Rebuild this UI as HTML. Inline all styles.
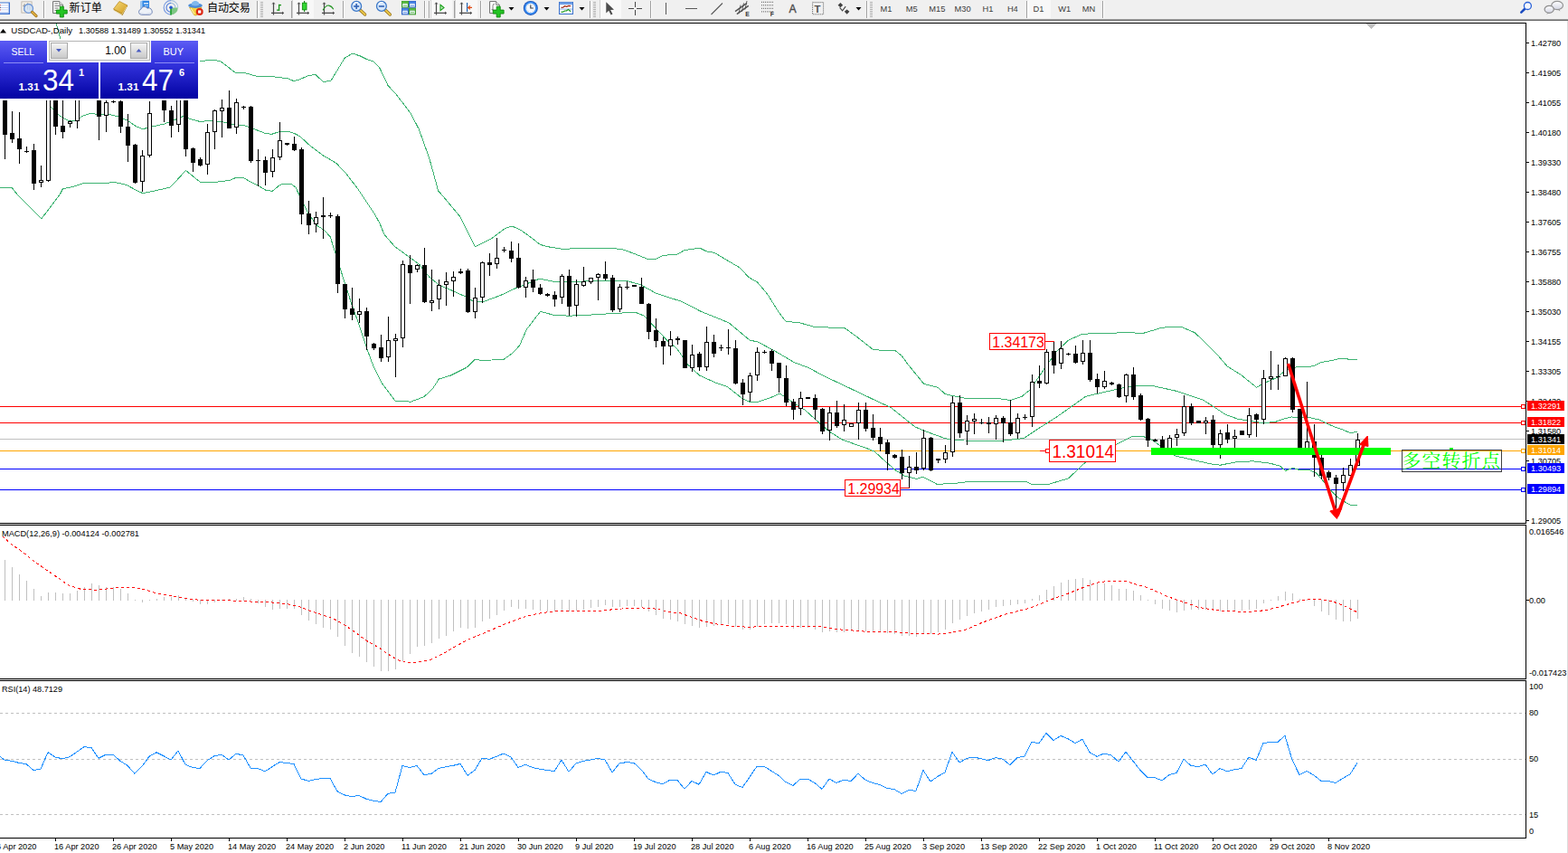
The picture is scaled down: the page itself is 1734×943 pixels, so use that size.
<!DOCTYPE html><html><head><meta charset="utf-8"><title>USDCAD Daily</title>
<style>html,body{margin:0;padding:0;background:#fff;overflow:hidden}svg{display:block}text{font-family:"Liberation Sans",sans-serif}</style></head><body>
<svg width="1734" height="943" viewBox="0 0 1734 943">
<rect x="0" y="0" width="1734" height="943" fill="#fff" />
<g shape-rendering="crispEdges">
<defs><clipPath id="cm"><rect x="0" y="26" width="1687" height="552"/></clipPath><clipPath id="cmacd"><rect x="0" y="582" width="1687" height="168"/></clipPath><linearGradient id="gb" gradientUnits="userSpaceOnUse" x1="0" y1="45" x2="0" y2="109"><stop offset="0" stop-color="#5c5cf4"/><stop offset="0.38" stop-color="#3434de"/><stop offset="1" stop-color="#0202a2"/></linearGradient><linearGradient id="gbtn" x1="0" y1="0" x2="0" y2="1"><stop offset="0" stop-color="#f4f4f4"/><stop offset="1" stop-color="#c9c9c9"/></linearGradient></defs>
<g clip-path="url(#cm)">
<rect x="0" y="449" width="1687" height="1" fill="#ff0000" />
<rect x="0" y="467" width="1687" height="1" fill="#ff0000" />
<rect x="0" y="485" width="1687" height="1" fill="#c0c0c0" />
<rect x="0" y="498" width="1687" height="1" fill="#ffa500" />
<rect x="0" y="518" width="1687" height="1" fill="#0000ff" />
<rect x="0" y="541" width="1687" height="1" fill="#0000ff" />
<polyline points="58.0,10.0 62.0,26.0 67.0,43.0 80.0,58.0 150.0,66.0 220.6,67.7 234.4,66.1 243.9,67.7 261.1,81.0 268.7,80.1 284.0,84.3 303.1,84.9 318.3,86.8 325.0,89.6 331.7,87.7 341.2,83.5 348.9,82.4 357.5,90.6 366.1,89.1 381.3,63.9 389.9,59.1 398.5,62.0 406.1,65.8 412.8,67.7 419.5,74.4 429.0,94.4 438.6,104.9 453.9,124.9 463.4,143.1 472.9,169.8 476.5,181.0 484.6,211.0 488.0,214.7 508.3,238.9 525.3,272.9 543.2,263.9 558.5,252.4 566.1,249.9 575.7,254.3 585.2,261.0 597.6,270.5 606.2,272.8 621.5,275.3 646.3,274.4 673.1,274.4 687.1,275.4 699.8,279.8 716.3,286.4 725.2,286.4 732.9,282.4 749.4,281.0 757.0,276.6 773.6,274.1 781.2,277.9 790.1,279.4 804.1,287.7 818.1,296.0 828.3,306.8 837.2,311.6 848.7,325.2 861.3,345.4 869.0,355.3 884.2,356.8 901.4,361.6 933.9,362.5 947.2,372.1 965.4,386.4 975.9,387.3 989.2,387.0 996.9,393.1 1004.5,403.4 1021.7,424.4 1037.0,428.2 1045.6,435.8 1065.6,440.0 1100.0,440.0 1117.1,442.5 1130.0,438.3 1139.5,430.6 1154.8,407.7 1168.2,388.6 1181.5,376.2 1196.8,369.2 1215.9,368.6 1248.3,367.6 1263.6,368.6 1282.7,362.9 1294.1,361.0 1307.5,361.9 1320.9,367.6 1330.4,376.2 1345.7,391.5 1357.1,404.9 1372.4,414.4 1389.6,428.3 1397.2,423.9 1412.5,417.3 1422.0,408.7 1433.5,405.8 1448.5,405.4 1453.6,404.2 1461.2,400.4 1471.4,398.8 1481.6,396.3 1488.0,396.2 1491.8,397.4 1500.9,397.4" fill="none" stroke="#3cb371" stroke-width="1" />
<polyline points="0.0,100.0 50.9,110.9 56.0,117.9 66.2,128.1 75.1,133.2 84.0,133.2 91.6,128.1 100.5,125.2 109.4,126.8 119.6,126.2 132.3,129.4 141.2,133.2 150.1,139.5 157.8,142.7 169.2,139.8 181.9,137.0 194.7,131.9 202.3,128.7 209.9,131.3 220.2,134.2 232.9,133.8 247.7,135.1 252.0,136.3 260.9,138.5 269.8,138.5 281.2,142.7 292.7,147.2 300.3,148.4 309.2,145.5 319.4,145.5 325.1,147.2 331.7,150.7 342.3,160.5 357.6,172.0 371.6,180.2 382.3,191.2 396.3,209.6 414.1,236.3 420.0,247.0 424.9,259.1 436.4,272.4 453.5,284.9 464.0,292.5 474.5,305.9 486.0,315.4 502.2,322.1 515.6,328.4 524.1,333.5 534.6,333.5 552.8,326.8 571.9,317.9 583.3,313.5 596.7,308.1 613.9,311.6 636.8,311.6 657.8,310.2 680.0,310.0 693.4,310.6 708.6,314.8 725.8,324.4 752.5,332.9 775.4,344.4 806.0,356.8 828.9,375.9 838.4,378.2 855.6,387.3 878.5,400.7 893.8,406.4 911.0,415.6 937.7,428.2 966.3,441.8 985.4,450.7 1012.2,472.1 1023.6,476.8 1045.6,484.9 1065.6,487.0 1107.6,487.3 1132.4,484.5 1147.2,474.5 1168.2,461.2 1187.3,447.8 1200.6,438.3 1225.4,432.5 1244.5,428.3 1256.0,426.2 1273.2,426.2 1301.8,432.5 1330.4,442.1 1343.8,450.7 1355.2,458.3 1368.6,463.1 1380.0,465.0 1397.2,467.8 1410.6,466.3 1419.3,463.3 1428.2,461.0 1447.3,461.4 1458.7,464.0 1466.3,467.8 1476.5,472.2 1485.4,475.2 1493.1,478.6 1500.9,477.3" fill="none" stroke="#3cb371" stroke-width="1" />
<polyline points="0.0,207.5 5.0,207.0 12.7,207.0 19.1,215.0 45.8,241.9 66.2,215.0 69.3,208.9 81.4,206.3 92.9,202.5 119.6,202.3 124.7,201.0 140.0,204.4 150.1,210.1 157.8,213.6 169.2,211.4 188.3,207.0 205.5,188.5 221.3,201.2 240.3,201.1 254.5,199.3 260.9,196.3 269.0,196.4 278.7,201.9 286.1,205.4 293.7,210.2 301.1,211.3 309.9,204.2 316.9,203.1 322.2,203.6 326.9,207.0 330.8,215.3 336.5,226.8 341.0,235.7 347.4,245.2 351.8,250.3 358.2,254.1 365.2,261.8 371.2,280.8 379.1,305.9 388.6,335.4 398.2,362.2 406.2,386.7 413.5,406.3 421.8,422.8 437.1,443.2 449.2,443.4 453.6,444.4 468.9,438.7 478.4,429.8 485.4,419.0 498.1,415.2 516.0,406.3 525.5,397.1 530.6,398.2 543.9,398.0 557.3,397.1 566.8,390.4 574.5,382.1 582.4,364.1 597.6,344.4 612.0,348.2 629.1,349.2 657.8,347.8 680.0,346.3 702.9,345.4 712.4,349.2 725.8,363.5 737.3,375.9 748.7,385.4 760.2,402.6 773.5,415.0 792.6,423.6 804.1,427.4 821.2,440.8 828.9,444.2 838.4,444.2 851.8,439.8 862.3,435.1 870.9,440.8 882.3,448.4 890.0,453.0 901.5,463.5 916.7,476.8 932.0,486.4 956.5,494.8 967.3,499.2 975.2,506.6 983.1,513.5 991.0,520.4 1000.9,526.4 1013.7,529.3 1020.6,527.3 1027.5,530.8 1036.4,535.4 1057.1,534.2 1073.2,532.2 1134.3,532.2 1141.5,535.6 1158.6,535.6 1181.5,528.9 1200.6,510.8 1234.0,491.7 1252.2,482.2 1263.6,482.2 1275.0,486.9 1282.7,492.7 1299.9,504.1 1313.2,507.0 1338.0,512.7 1349.5,514.2 1366.7,510.8 1385.8,509.8 1404.9,512.3 1415.4,515.2 1421.5,520.4 1429.5,517.4 1437.0,519.4 1447.3,519.0 1456.2,523.4 1463.8,532.3 1472.7,543.2 1479.0,549.5 1486.7,554.6 1493.7,558.4 1500.9,558.0" fill="none" stroke="#3cb371" stroke-width="1" />
<rect x="5" y="95" width="1" height="81" fill="#000" />
<rect x="3" y="100" width="5" height="49" fill="#000" />
<rect x="13" y="123" width="1" height="35" fill="#000" />
<rect x="11" y="147" width="5" height="7" fill="#000" />
<rect x="21" y="124" width="1" height="57" fill="#000" />
<rect x="19" y="153" width="5" height="12" fill="#000" />
<rect x="29" y="162" width="1" height="7" fill="#000" />
<rect x="27" y="167" width="5" height="1" fill="#000" />
<rect x="37" y="159" width="1" height="51" fill="#000" />
<rect x="35" y="166" width="5" height="37" fill="#000" />
<rect x="45" y="183" width="1" height="24" fill="#000" />
<rect x="43" y="199" width="5" height="3" fill="#000" />
<rect x="44" y="200" width="3" height="1" fill="#fff" />
<rect x="53" y="95" width="1" height="106" fill="#000" />
<rect x="51" y="100" width="5" height="100" fill="#000" />
<rect x="52" y="101" width="3" height="98" fill="#fff" />
<rect x="61" y="95" width="1" height="54" fill="#000" />
<rect x="59" y="100" width="5" height="40" fill="#000" />
<rect x="69" y="100" width="1" height="53" fill="#000" />
<rect x="67" y="139" width="5" height="7" fill="#000" />
<rect x="77" y="133" width="1" height="8" fill="#000" />
<rect x="75" y="134" width="5" height="3" fill="#000" />
<rect x="76" y="135" width="3" height="1" fill="#fff" />
<rect x="85" y="95" width="1" height="47" fill="#000" />
<rect x="83" y="100" width="5" height="34" fill="#000" />
<rect x="84" y="101" width="3" height="32" fill="#fff" />
<rect x="93" y="88" width="1" height="20" fill="#000" />
<rect x="91" y="90" width="5" height="15" fill="#000" />
<rect x="101" y="88" width="1" height="20" fill="#000" />
<rect x="99" y="92" width="5" height="12" fill="#000" />
<rect x="100" y="93" width="3" height="10" fill="#fff" />
<rect x="109" y="95" width="1" height="60" fill="#000" />
<rect x="107" y="100" width="5" height="29" fill="#000" />
<rect x="117" y="108" width="1" height="38" fill="#000" />
<rect x="115" y="113" width="5" height="15" fill="#000" />
<rect x="116" y="114" width="3" height="13" fill="#fff" />
<rect x="125" y="108" width="1" height="6" fill="#000" />
<rect x="123" y="112" width="5" height="1" fill="#000" />
<rect x="133" y="108" width="1" height="39" fill="#000" />
<rect x="131" y="112" width="5" height="28" fill="#000" />
<rect x="141" y="126" width="1" height="53" fill="#000" />
<rect x="139" y="140" width="5" height="21" fill="#000" />
<rect x="149" y="159" width="1" height="44" fill="#000" />
<rect x="147" y="160" width="5" height="42" fill="#000" />
<rect x="157" y="166" width="1" height="46" fill="#000" />
<rect x="155" y="172" width="5" height="29" fill="#000" />
<rect x="156" y="173" width="3" height="27" fill="#fff" />
<rect x="165" y="112" width="1" height="62" fill="#000" />
<rect x="163" y="125" width="5" height="47" fill="#000" />
<rect x="164" y="126" width="3" height="45" fill="#fff" />
<rect x="173" y="92" width="1" height="16" fill="#000" />
<rect x="171" y="95" width="5" height="12" fill="#000" />
<rect x="172" y="96" width="3" height="10" fill="#fff" />
<rect x="181" y="95" width="1" height="40" fill="#000" />
<rect x="179" y="100" width="5" height="22" fill="#000" />
<rect x="189" y="117" width="1" height="35" fill="#000" />
<rect x="187" y="122" width="5" height="17" fill="#000" />
<rect x="197" y="95" width="1" height="51" fill="#000" />
<rect x="195" y="100" width="5" height="38" fill="#000" />
<rect x="196" y="101" width="3" height="36" fill="#fff" />
<rect x="205" y="95" width="1" height="78" fill="#000" />
<rect x="203" y="100" width="5" height="65" fill="#000" />
<rect x="213" y="163" width="1" height="27" fill="#000" />
<rect x="211" y="164" width="5" height="16" fill="#000" />
<rect x="221" y="174" width="1" height="10" fill="#000" />
<rect x="219" y="176" width="5" height="7" fill="#000" />
<rect x="229" y="137" width="1" height="56" fill="#000" />
<rect x="227" y="146" width="5" height="36" fill="#000" />
<rect x="228" y="147" width="3" height="34" fill="#fff" />
<rect x="237" y="121" width="1" height="44" fill="#000" />
<rect x="235" y="122" width="5" height="24" fill="#000" />
<rect x="236" y="123" width="3" height="22" fill="#fff" />
<rect x="245" y="110" width="1" height="42" fill="#000" />
<rect x="243" y="119" width="5" height="4" fill="#000" />
<rect x="244" y="120" width="3" height="2" fill="#fff" />
<rect x="253" y="100" width="1" height="42" fill="#000" />
<rect x="251" y="119" width="5" height="23" fill="#000" />
<rect x="261" y="109" width="1" height="39" fill="#000" />
<rect x="259" y="113" width="5" height="28" fill="#000" />
<rect x="260" y="114" width="3" height="26" fill="#fff" />
<rect x="269" y="117" width="1" height="4" fill="#000" />
<rect x="267" y="118" width="5" height="1" fill="#000" />
<rect x="277" y="117" width="1" height="63" fill="#000" />
<rect x="275" y="118" width="5" height="60" fill="#000" />
<rect x="285" y="165" width="1" height="41" fill="#000" />
<rect x="283" y="177" width="5" height="1" fill="#000" />
<rect x="293" y="173" width="1" height="32" fill="#000" />
<rect x="291" y="177" width="5" height="14" fill="#000" />
<rect x="301" y="165" width="1" height="31" fill="#000" />
<rect x="299" y="174" width="5" height="16" fill="#000" />
<rect x="300" y="175" width="3" height="14" fill="#fff" />
<rect x="309" y="135" width="1" height="42" fill="#000" />
<rect x="307" y="155" width="5" height="19" fill="#000" />
<rect x="308" y="156" width="3" height="17" fill="#fff" />
<rect x="317" y="158" width="1" height="3" fill="#000" />
<rect x="315" y="158" width="5" height="2" fill="#000" />
<rect x="325" y="151" width="1" height="16" fill="#000" />
<rect x="323" y="159" width="5" height="7" fill="#000" />
<rect x="333" y="163" width="1" height="85" fill="#000" />
<rect x="331" y="165" width="5" height="72" fill="#000" />
<rect x="341" y="222" width="1" height="37" fill="#000" />
<rect x="339" y="236" width="5" height="13" fill="#000" />
<rect x="349" y="234" width="1" height="23" fill="#000" />
<rect x="347" y="240" width="5" height="8" fill="#000" />
<rect x="348" y="241" width="3" height="6" fill="#fff" />
<rect x="357" y="218" width="1" height="46" fill="#000" />
<rect x="355" y="238" width="5" height="2" fill="#000" />
<rect x="365" y="235" width="1" height="6" fill="#000" />
<rect x="363" y="238" width="5" height="1" fill="#000" />
<rect x="373" y="237" width="1" height="87" fill="#000" />
<rect x="371" y="239" width="5" height="75" fill="#000" />
<rect x="381" y="314" width="1" height="38" fill="#000" />
<rect x="379" y="314" width="5" height="28" fill="#000" />
<rect x="389" y="318" width="1" height="36" fill="#000" />
<rect x="387" y="341" width="5" height="7" fill="#000" />
<rect x="397" y="330" width="1" height="27" fill="#000" />
<rect x="395" y="344" width="5" height="4" fill="#000" />
<rect x="396" y="345" width="3" height="2" fill="#fff" />
<rect x="405" y="340" width="1" height="47" fill="#000" />
<rect x="403" y="344" width="5" height="28" fill="#000" />
<rect x="413" y="379" width="1" height="8" fill="#000" />
<rect x="411" y="380" width="5" height="5" fill="#000" />
<rect x="421" y="370" width="1" height="30" fill="#000" />
<rect x="419" y="384" width="5" height="12" fill="#000" />
<rect x="429" y="350" width="1" height="50" fill="#000" />
<rect x="427" y="376" width="5" height="19" fill="#000" />
<rect x="428" y="377" width="3" height="17" fill="#fff" />
<rect x="437" y="369" width="1" height="48" fill="#000" />
<rect x="435" y="374" width="5" height="3" fill="#000" />
<rect x="436" y="375" width="3" height="1" fill="#fff" />
<rect x="445" y="288" width="1" height="96" fill="#000" />
<rect x="443" y="292" width="5" height="82" fill="#000" />
<rect x="444" y="293" width="3" height="80" fill="#fff" />
<rect x="453" y="282" width="1" height="54" fill="#000" />
<rect x="451" y="293" width="5" height="9" fill="#000" />
<rect x="461" y="292" width="1" height="9" fill="#000" />
<rect x="459" y="293" width="5" height="5" fill="#000" />
<rect x="460" y="294" width="3" height="3" fill="#fff" />
<rect x="469" y="274" width="1" height="61" fill="#000" />
<rect x="467" y="293" width="5" height="41" fill="#000" />
<rect x="477" y="298" width="1" height="46" fill="#000" />
<rect x="475" y="332" width="5" height="3" fill="#000" />
<rect x="476" y="333" width="3" height="1" fill="#fff" />
<rect x="485" y="309" width="1" height="33" fill="#000" />
<rect x="483" y="315" width="5" height="16" fill="#000" />
<rect x="484" y="316" width="3" height="14" fill="#fff" />
<rect x="493" y="301" width="1" height="37" fill="#000" />
<rect x="491" y="311" width="5" height="4" fill="#000" />
<rect x="492" y="312" width="3" height="2" fill="#fff" />
<rect x="501" y="300" width="1" height="28" fill="#000" />
<rect x="499" y="306" width="5" height="5" fill="#000" />
<rect x="500" y="307" width="3" height="3" fill="#fff" />
<rect x="509" y="297" width="1" height="6" fill="#000" />
<rect x="507" y="300" width="5" height="2" fill="#000" />
<rect x="517" y="297" width="1" height="49" fill="#000" />
<rect x="515" y="299" width="5" height="46" fill="#000" />
<rect x="525" y="318" width="1" height="34" fill="#000" />
<rect x="523" y="329" width="5" height="16" fill="#000" />
<rect x="524" y="330" width="3" height="14" fill="#fff" />
<rect x="533" y="289" width="1" height="46" fill="#000" />
<rect x="531" y="290" width="5" height="39" fill="#000" />
<rect x="532" y="291" width="3" height="37" fill="#fff" />
<rect x="541" y="280" width="1" height="25" fill="#000" />
<rect x="539" y="290" width="5" height="3" fill="#000" />
<rect x="549" y="263" width="1" height="34" fill="#000" />
<rect x="547" y="285" width="5" height="7" fill="#000" />
<rect x="548" y="286" width="3" height="5" fill="#fff" />
<rect x="557" y="273" width="1" height="6" fill="#000" />
<rect x="555" y="276" width="5" height="1" fill="#000" />
<rect x="565" y="267" width="1" height="23" fill="#000" />
<rect x="563" y="277" width="5" height="9" fill="#000" />
<rect x="573" y="269" width="1" height="50" fill="#000" />
<rect x="571" y="285" width="5" height="33" fill="#000" />
<rect x="581" y="306" width="1" height="23" fill="#000" />
<rect x="579" y="310" width="5" height="8" fill="#000" />
<rect x="580" y="311" width="3" height="6" fill="#fff" />
<rect x="589" y="298" width="1" height="25" fill="#000" />
<rect x="587" y="309" width="5" height="9" fill="#000" />
<rect x="597" y="314" width="1" height="12" fill="#000" />
<rect x="595" y="318" width="5" height="7" fill="#000" />
<rect x="605" y="324" width="1" height="4" fill="#000" />
<rect x="603" y="325" width="5" height="2" fill="#000" />
<rect x="613" y="322" width="1" height="17" fill="#000" />
<rect x="611" y="326" width="5" height="5" fill="#000" />
<rect x="621" y="303" width="1" height="33" fill="#000" />
<rect x="619" y="305" width="5" height="24" fill="#000" />
<rect x="620" y="306" width="3" height="22" fill="#fff" />
<rect x="629" y="298" width="1" height="51" fill="#000" />
<rect x="627" y="305" width="5" height="34" fill="#000" />
<rect x="637" y="309" width="1" height="41" fill="#000" />
<rect x="635" y="314" width="5" height="24" fill="#000" />
<rect x="636" y="315" width="3" height="22" fill="#fff" />
<rect x="645" y="295" width="1" height="22" fill="#000" />
<rect x="643" y="311" width="5" height="5" fill="#000" />
<rect x="644" y="312" width="3" height="3" fill="#fff" />
<rect x="653" y="307" width="1" height="7" fill="#000" />
<rect x="651" y="307" width="5" height="5" fill="#000" />
<rect x="652" y="308" width="3" height="3" fill="#fff" />
<rect x="661" y="302" width="1" height="30" fill="#000" />
<rect x="659" y="303" width="5" height="4" fill="#000" />
<rect x="660" y="304" width="3" height="2" fill="#fff" />
<rect x="669" y="289" width="1" height="21" fill="#000" />
<rect x="667" y="303" width="5" height="5" fill="#000" />
<rect x="677" y="304" width="1" height="41" fill="#000" />
<rect x="675" y="307" width="5" height="36" fill="#000" />
<rect x="685" y="314" width="1" height="31" fill="#000" />
<rect x="683" y="317" width="5" height="25" fill="#000" />
<rect x="684" y="318" width="3" height="23" fill="#fff" />
<rect x="693" y="311" width="1" height="9" fill="#000" />
<rect x="691" y="317" width="5" height="1" fill="#000" />
<rect x="701" y="315" width="1" height="2" fill="#000" />
<rect x="699" y="315" width="5" height="2" fill="#000" />
<rect x="709" y="307" width="1" height="29" fill="#000" />
<rect x="707" y="317" width="5" height="19" fill="#000" />
<rect x="717" y="335" width="1" height="40" fill="#000" />
<rect x="715" y="336" width="5" height="31" fill="#000" />
<rect x="725" y="352" width="1" height="32" fill="#000" />
<rect x="723" y="365" width="5" height="12" fill="#000" />
<rect x="733" y="373" width="1" height="30" fill="#000" />
<rect x="731" y="377" width="5" height="6" fill="#000" />
<rect x="741" y="366" width="1" height="27" fill="#000" />
<rect x="739" y="375" width="5" height="8" fill="#000" />
<rect x="740" y="376" width="3" height="6" fill="#fff" />
<rect x="749" y="372" width="1" height="9" fill="#000" />
<rect x="747" y="374" width="5" height="2" fill="#000" />
<rect x="757" y="376" width="1" height="31" fill="#000" />
<rect x="755" y="376" width="5" height="31" fill="#000" />
<rect x="765" y="381" width="1" height="30" fill="#000" />
<rect x="763" y="392" width="5" height="15" fill="#000" />
<rect x="764" y="393" width="3" height="13" fill="#fff" />
<rect x="773" y="389" width="1" height="21" fill="#000" />
<rect x="771" y="391" width="5" height="15" fill="#000" />
<rect x="781" y="361" width="1" height="49" fill="#000" />
<rect x="779" y="378" width="5" height="28" fill="#000" />
<rect x="780" y="379" width="3" height="26" fill="#fff" />
<rect x="789" y="370" width="1" height="25" fill="#000" />
<rect x="787" y="378" width="5" height="13" fill="#000" />
<rect x="797" y="381" width="1" height="7" fill="#000" />
<rect x="795" y="384" width="5" height="1" fill="#000" />
<rect x="805" y="364" width="1" height="28" fill="#000" />
<rect x="803" y="384" width="5" height="1" fill="#000" />
<rect x="813" y="376" width="1" height="49" fill="#000" />
<rect x="811" y="385" width="5" height="39" fill="#000" />
<rect x="821" y="419" width="1" height="29" fill="#000" />
<rect x="819" y="423" width="5" height="13" fill="#000" />
<rect x="829" y="412" width="1" height="32" fill="#000" />
<rect x="827" y="415" width="5" height="19" fill="#000" />
<rect x="828" y="416" width="3" height="17" fill="#fff" />
<rect x="837" y="384" width="1" height="37" fill="#000" />
<rect x="835" y="389" width="5" height="26" fill="#000" />
<rect x="836" y="390" width="3" height="24" fill="#fff" />
<rect x="845" y="387" width="1" height="4" fill="#000" />
<rect x="843" y="389" width="5" height="1" fill="#000" />
<rect x="853" y="386" width="1" height="24" fill="#000" />
<rect x="851" y="388" width="5" height="14" fill="#000" />
<rect x="861" y="401" width="1" height="33" fill="#000" />
<rect x="859" y="401" width="5" height="17" fill="#000" />
<rect x="869" y="404" width="1" height="45" fill="#000" />
<rect x="867" y="418" width="5" height="27" fill="#000" />
<rect x="877" y="441" width="1" height="23" fill="#000" />
<rect x="875" y="444" width="5" height="9" fill="#000" />
<rect x="885" y="433" width="1" height="26" fill="#000" />
<rect x="883" y="440" width="5" height="12" fill="#000" />
<rect x="884" y="441" width="3" height="10" fill="#fff" />
<rect x="893" y="439" width="1" height="2" fill="#000" />
<rect x="891" y="439" width="5" height="2" fill="#000" />
<rect x="901" y="436" width="1" height="28" fill="#000" />
<rect x="899" y="440" width="5" height="13" fill="#000" />
<rect x="909" y="451" width="1" height="29" fill="#000" />
<rect x="907" y="452" width="5" height="25" fill="#000" />
<rect x="917" y="450" width="1" height="37" fill="#000" />
<rect x="915" y="456" width="5" height="20" fill="#000" />
<rect x="916" y="457" width="3" height="18" fill="#fff" />
<rect x="925" y="443" width="1" height="30" fill="#000" />
<rect x="923" y="456" width="5" height="15" fill="#000" />
<rect x="933" y="447" width="1" height="30" fill="#000" />
<rect x="931" y="464" width="5" height="6" fill="#000" />
<rect x="932" y="465" width="3" height="4" fill="#fff" />
<rect x="941" y="468" width="1" height="4" fill="#000" />
<rect x="939" y="468" width="5" height="4" fill="#000" />
<rect x="940" y="469" width="3" height="2" fill="#fff" />
<rect x="949" y="445" width="1" height="41" fill="#000" />
<rect x="947" y="453" width="5" height="15" fill="#000" />
<rect x="948" y="454" width="3" height="13" fill="#fff" />
<rect x="957" y="445" width="1" height="32" fill="#000" />
<rect x="955" y="453" width="5" height="21" fill="#000" />
<rect x="965" y="458" width="1" height="29" fill="#000" />
<rect x="963" y="473" width="5" height="11" fill="#000" />
<rect x="973" y="473" width="1" height="26" fill="#000" />
<rect x="971" y="483" width="5" height="8" fill="#000" />
<rect x="981" y="486" width="1" height="34" fill="#000" />
<rect x="979" y="489" width="5" height="13" fill="#000" />
<rect x="989" y="502" width="1" height="5" fill="#000" />
<rect x="987" y="503" width="5" height="3" fill="#000" />
<rect x="997" y="497" width="1" height="33" fill="#000" />
<rect x="995" y="505" width="5" height="18" fill="#000" />
<rect x="1005" y="504" width="1" height="36" fill="#000" />
<rect x="1003" y="516" width="5" height="7" fill="#000" />
<rect x="1004" y="517" width="3" height="5" fill="#fff" />
<rect x="1013" y="500" width="1" height="24" fill="#000" />
<rect x="1011" y="516" width="5" height="4" fill="#000" />
<rect x="1021" y="475" width="1" height="45" fill="#000" />
<rect x="1019" y="484" width="5" height="34" fill="#000" />
<rect x="1020" y="485" width="3" height="32" fill="#fff" />
<rect x="1029" y="483" width="1" height="38" fill="#000" />
<rect x="1027" y="484" width="5" height="36" fill="#000" />
<rect x="1037" y="507" width="1" height="5" fill="#000" />
<rect x="1035" y="507" width="5" height="2" fill="#000" />
<rect x="1045" y="492" width="1" height="20" fill="#000" />
<rect x="1043" y="500" width="5" height="8" fill="#000" />
<rect x="1044" y="501" width="3" height="6" fill="#fff" />
<rect x="1053" y="438" width="1" height="67" fill="#000" />
<rect x="1051" y="445" width="5" height="55" fill="#000" />
<rect x="1052" y="446" width="3" height="53" fill="#fff" />
<rect x="1061" y="437" width="1" height="47" fill="#000" />
<rect x="1059" y="445" width="5" height="34" fill="#000" />
<rect x="1069" y="459" width="1" height="33" fill="#000" />
<rect x="1067" y="465" width="5" height="12" fill="#000" />
<rect x="1068" y="466" width="3" height="10" fill="#fff" />
<rect x="1077" y="457" width="1" height="23" fill="#000" />
<rect x="1075" y="463" width="5" height="3" fill="#000" />
<rect x="1076" y="464" width="3" height="1" fill="#fff" />
<rect x="1085" y="463" width="1" height="6" fill="#000" />
<rect x="1083" y="467" width="5" height="1" fill="#000" />
<rect x="1093" y="461" width="1" height="18" fill="#000" />
<rect x="1091" y="467" width="5" height="2" fill="#000" />
<rect x="1101" y="459" width="1" height="27" fill="#000" />
<rect x="1099" y="462" width="5" height="7" fill="#000" />
<rect x="1100" y="463" width="3" height="5" fill="#fff" />
<rect x="1109" y="460" width="1" height="29" fill="#000" />
<rect x="1107" y="462" width="5" height="6" fill="#000" />
<rect x="1117" y="442" width="1" height="40" fill="#000" />
<rect x="1115" y="467" width="5" height="13" fill="#000" />
<rect x="1125" y="457" width="1" height="28" fill="#000" />
<rect x="1123" y="462" width="5" height="17" fill="#000" />
<rect x="1124" y="463" width="3" height="15" fill="#fff" />
<rect x="1133" y="458" width="1" height="6" fill="#000" />
<rect x="1131" y="461" width="5" height="1" fill="#000" />
<rect x="1141" y="414" width="1" height="58" fill="#000" />
<rect x="1139" y="422" width="5" height="39" fill="#000" />
<rect x="1140" y="423" width="3" height="37" fill="#fff" />
<rect x="1149" y="404" width="1" height="25" fill="#000" />
<rect x="1147" y="421" width="5" height="3" fill="#000" />
<rect x="1157" y="386" width="1" height="39" fill="#000" />
<rect x="1155" y="389" width="5" height="35" fill="#000" />
<rect x="1156" y="390" width="3" height="33" fill="#fff" />
<rect x="1165" y="377" width="1" height="36" fill="#000" />
<rect x="1163" y="388" width="5" height="16" fill="#000" />
<rect x="1173" y="377" width="1" height="31" fill="#000" />
<rect x="1171" y="385" width="5" height="17" fill="#000" />
<rect x="1172" y="386" width="3" height="15" fill="#fff" />
<rect x="1181" y="390" width="1" height="3" fill="#000" />
<rect x="1179" y="391" width="5" height="1" fill="#000" />
<rect x="1189" y="382" width="1" height="20" fill="#000" />
<rect x="1187" y="391" width="5" height="10" fill="#000" />
<rect x="1197" y="376" width="1" height="27" fill="#000" />
<rect x="1195" y="390" width="5" height="10" fill="#000" />
<rect x="1196" y="391" width="3" height="8" fill="#fff" />
<rect x="1205" y="376" width="1" height="46" fill="#000" />
<rect x="1203" y="390" width="5" height="30" fill="#000" />
<rect x="1213" y="413" width="1" height="22" fill="#000" />
<rect x="1211" y="419" width="5" height="9" fill="#000" />
<rect x="1221" y="410" width="1" height="20" fill="#000" />
<rect x="1219" y="421" width="5" height="7" fill="#000" />
<rect x="1220" y="422" width="3" height="5" fill="#fff" />
<rect x="1229" y="422" width="1" height="4" fill="#000" />
<rect x="1227" y="423" width="5" height="2" fill="#000" />
<rect x="1237" y="424" width="1" height="16" fill="#000" />
<rect x="1235" y="425" width="5" height="14" fill="#000" />
<rect x="1245" y="413" width="1" height="32" fill="#000" />
<rect x="1243" y="414" width="5" height="24" fill="#000" />
<rect x="1244" y="415" width="3" height="22" fill="#fff" />
<rect x="1253" y="406" width="1" height="36" fill="#000" />
<rect x="1251" y="414" width="5" height="25" fill="#000" />
<rect x="1261" y="435" width="1" height="30" fill="#000" />
<rect x="1259" y="437" width="5" height="27" fill="#000" />
<rect x="1269" y="462" width="1" height="32" fill="#000" />
<rect x="1267" y="463" width="5" height="24" fill="#000" />
<rect x="1277" y="485" width="1" height="3" fill="#000" />
<rect x="1275" y="486" width="5" height="2" fill="#000" />
<rect x="1285" y="482" width="1" height="15" fill="#000" />
<rect x="1283" y="486" width="5" height="11" fill="#000" />
<rect x="1293" y="481" width="1" height="16" fill="#000" />
<rect x="1291" y="484" width="5" height="13" fill="#000" />
<rect x="1292" y="485" width="3" height="11" fill="#fff" />
<rect x="1301" y="474" width="1" height="19" fill="#000" />
<rect x="1299" y="480" width="5" height="4" fill="#000" />
<rect x="1300" y="481" width="3" height="2" fill="#fff" />
<rect x="1309" y="437" width="1" height="45" fill="#000" />
<rect x="1307" y="449" width="5" height="30" fill="#000" />
<rect x="1308" y="450" width="3" height="28" fill="#fff" />
<rect x="1317" y="446" width="1" height="24" fill="#000" />
<rect x="1315" y="449" width="5" height="19" fill="#000" />
<rect x="1325" y="465" width="1" height="3" fill="#000" />
<rect x="1323" y="465" width="5" height="3" fill="#000" />
<rect x="1333" y="461" width="1" height="19" fill="#000" />
<rect x="1331" y="465" width="5" height="3" fill="#000" />
<rect x="1332" y="466" width="3" height="1" fill="#fff" />
<rect x="1341" y="459" width="1" height="36" fill="#000" />
<rect x="1339" y="464" width="5" height="28" fill="#000" />
<rect x="1349" y="475" width="1" height="32" fill="#000" />
<rect x="1347" y="479" width="5" height="13" fill="#000" />
<rect x="1348" y="480" width="3" height="11" fill="#fff" />
<rect x="1357" y="469" width="1" height="21" fill="#000" />
<rect x="1355" y="478" width="5" height="8" fill="#000" />
<rect x="1365" y="475" width="1" height="20" fill="#000" />
<rect x="1363" y="482" width="5" height="3" fill="#000" />
<rect x="1364" y="483" width="3" height="1" fill="#fff" />
<rect x="1373" y="476" width="1" height="5" fill="#000" />
<rect x="1371" y="476" width="5" height="5" fill="#000" />
<rect x="1381" y="451" width="1" height="33" fill="#000" />
<rect x="1379" y="459" width="5" height="22" fill="#000" />
<rect x="1380" y="460" width="3" height="20" fill="#fff" />
<rect x="1389" y="457" width="1" height="26" fill="#000" />
<rect x="1387" y="458" width="5" height="6" fill="#000" />
<rect x="1397" y="409" width="1" height="60" fill="#000" />
<rect x="1395" y="418" width="5" height="46" fill="#000" />
<rect x="1396" y="419" width="3" height="44" fill="#fff" />
<rect x="1405" y="388" width="1" height="43" fill="#000" />
<rect x="1403" y="416" width="5" height="3" fill="#000" />
<rect x="1404" y="417" width="3" height="1" fill="#fff" />
<rect x="1413" y="403" width="1" height="28" fill="#000" />
<rect x="1411" y="416" width="5" height="1" fill="#000" />
<rect x="1421" y="395" width="1" height="21" fill="#000" />
<rect x="1419" y="396" width="5" height="20" fill="#000" />
<rect x="1420" y="397" width="3" height="18" fill="#fff" />
<rect x="1429" y="395" width="1" height="61" fill="#000" />
<rect x="1427" y="396" width="5" height="57" fill="#000" />
<rect x="1437" y="452" width="1" height="46" fill="#000" />
<rect x="1435" y="452" width="5" height="46" fill="#000" />
<rect x="1445" y="422" width="1" height="76" fill="#000" />
<rect x="1443" y="488" width="5" height="10" fill="#000" />
<rect x="1444" y="489" width="3" height="8" fill="#fff" />
<rect x="1453" y="469" width="1" height="58" fill="#000" />
<rect x="1451" y="488" width="5" height="18" fill="#000" />
<rect x="1461" y="503" width="1" height="27" fill="#000" />
<rect x="1459" y="506" width="5" height="20" fill="#000" />
<rect x="1469" y="520" width="1" height="11" fill="#000" />
<rect x="1467" y="522" width="5" height="6" fill="#000" />
<rect x="1477" y="525" width="1" height="37" fill="#000" />
<rect x="1475" y="528" width="5" height="7" fill="#000" />
<rect x="1485" y="517" width="1" height="26" fill="#000" />
<rect x="1483" y="525" width="5" height="9" fill="#000" />
<rect x="1484" y="526" width="3" height="7" fill="#fff" />
<rect x="1493" y="507" width="1" height="19" fill="#000" />
<rect x="1491" y="514" width="5" height="12" fill="#000" />
<rect x="1492" y="515" width="3" height="10" fill="#fff" />
<rect x="1501" y="479" width="1" height="36" fill="#000" />
<rect x="1499" y="486" width="5" height="29" fill="#000" />
<rect x="1500" y="487" width="3" height="27" fill="#fff" />
</g>
<rect x="0" y="25" width="1688" height="1" fill="#000" />
<rect x="1687" y="25" width="1" height="554" fill="#000" />
<rect x="0" y="578" width="1688" height="1" fill="#000" />
<rect x="0" y="579" width="1688" height="1" fill="#dcdcdc" />
<rect x="0" y="580" width="1688" height="1" fill="#000" />
<rect x="1687" y="580" width="1" height="171" fill="#000" />
<rect x="0" y="750" width="1688" height="1" fill="#000" />
<rect x="0" y="751" width="1688" height="1" fill="#dcdcdc" />
<rect x="0" y="752" width="1688" height="1" fill="#000" />
<rect x="1687" y="752" width="1" height="175" fill="#000" />
<rect x="0" y="926" width="1688" height="1" fill="#000" />
<polygon points="1510,26 1523,26 1516.5,32" fill="#c0c0c0"/>
<rect x="1682" y="447" width="5" height="5" fill="#ff0000" />
<rect x="1683" y="448" width="3" height="3" fill="#fff" />
<rect x="1682" y="465" width="5" height="5" fill="#ff0000" />
<rect x="1683" y="466" width="3" height="3" fill="#fff" />
<rect x="1682" y="496" width="5" height="5" fill="#ffa500" />
<rect x="1683" y="497" width="3" height="3" fill="#fff" />
<rect x="1682" y="516" width="5" height="5" fill="#0000ff" />
<rect x="1683" y="517" width="3" height="3" fill="#fff" />
<rect x="1682" y="539" width="5" height="5" fill="#0000ff" />
<rect x="1683" y="540" width="3" height="3" fill="#fff" />
<rect x="1273" y="495" width="265" height="8" fill="#00ff00" />
</g>
<g stroke="#ff0000" fill="#ff0000" stroke-width="3.6">
<line x1="1424.5" y1="402" x2="1477" y2="566"/>
<polygon points="1478.4,573.5 1470.8,565 1484,561.5" stroke-width="1"/>
<line x1="1479" y1="570" x2="1508" y2="492"/>
<polygon points="1512.3,482 1503.4,491.5 1513,493.5" stroke-width="1"/>
</g>
<g shape-rendering="crispEdges">
<rect x="995" y="539" width="11" height="1" fill="#ff0000" />
<rect x="934" y="530" width="62" height="19" fill="#ff0000" />
<rect x="935" y="531" width="60" height="17" fill="#fff" />
<rect x="1155" y="377" width="11" height="1" fill="#ff0000" />
<rect x="1094" y="368" width="62" height="19" fill="#ff0000" />
<rect x="1095" y="369" width="60" height="17" fill="#fff" />
<rect x="1150" y="498" width="10" height="1" fill="#ff0000" />
<rect x="1156" y="496" width="5" height="5" fill="#ff0000" />
<rect x="1157" y="497" width="3" height="3" fill="#fff" />
<rect x="1160" y="486" width="74" height="25" fill="#ff0000" />
<rect x="1161" y="487" width="72" height="23" fill="#fff" />
<rect x="1550" y="497" width="111" height="25" fill="#404040" />
<rect x="1551" y="498" width="109" height="23" fill="#fff" />
<rect x="1603" y="495" width="4" height="2" fill="#00ff00" />
<rect x="1551" y="518" width="109" height="1" fill="#0000ff" />
<rect x="1551" y="498" width="109" height="1" fill="#ffa500" />
</g>
<text x="937.3" y="545.7" font-size="15.9" fill="#ff0000" >1.29934</text>
<text x="1097.3" y="384" font-size="15.9" fill="#ff0000" >1.34173</text>
<text x="1163.5" y="506" font-size="21" fill="#ff0000" textLength="68.5" lengthAdjust="spacingAndGlyphs">1.31014</text>
<text x="1550.6" y="516.8" font-size="20.8" fill="#00ff00" textLength="108.5" lengthAdjust="spacing" style="font-family:'Liberation Serif','Noto Serif CJK SC',serif">多空转折点</text>
<g shape-rendering="crispEdges">
<rect x="1688" y="47" width="3" height="1" fill="#000" />
<rect x="1688" y="80" width="3" height="1" fill="#000" />
<rect x="1688" y="113" width="3" height="1" fill="#000" />
<rect x="1688" y="146" width="3" height="1" fill="#000" />
<rect x="1688" y="179" width="3" height="1" fill="#000" />
<rect x="1688" y="212" width="3" height="1" fill="#000" />
<rect x="1688" y="245" width="3" height="1" fill="#000" />
<rect x="1688" y="278" width="3" height="1" fill="#000" />
<rect x="1688" y="311" width="3" height="1" fill="#000" />
<rect x="1688" y="344" width="3" height="1" fill="#000" />
<rect x="1688" y="377" width="3" height="1" fill="#000" />
<rect x="1688" y="410" width="3" height="1" fill="#000" />
<rect x="1688" y="443" width="3" height="1" fill="#000" />
<rect x="1688" y="476" width="3" height="1" fill="#000" />
<rect x="1688" y="509" width="3" height="1" fill="#000" />
<rect x="1688" y="575" width="3" height="1" fill="#000" />
</g>
<text x="1693" y="50.9" font-size="9.2" fill="#000" >1.42780</text>
<text x="1693" y="83.9" font-size="9.2" fill="#000" >1.41905</text>
<text x="1693" y="116.9" font-size="9.2" fill="#000" >1.41055</text>
<text x="1693" y="149.9" font-size="9.2" fill="#000" >1.40180</text>
<text x="1693" y="182.9" font-size="9.2" fill="#000" >1.39330</text>
<text x="1693" y="215.9" font-size="9.2" fill="#000" >1.38480</text>
<text x="1693" y="248.9" font-size="9.2" fill="#000" >1.37605</text>
<text x="1693" y="281.9" font-size="9.2" fill="#000" >1.36755</text>
<text x="1693" y="314.9" font-size="9.2" fill="#000" >1.35880</text>
<text x="1693" y="347.9" font-size="9.2" fill="#000" >1.35030</text>
<text x="1693" y="380.9" font-size="9.2" fill="#000" >1.34155</text>
<text x="1693" y="413.9" font-size="9.2" fill="#000" >1.33305</text>
<text x="1693" y="446.9" font-size="9.2" fill="#000" >1.32430</text>
<text x="1693" y="479.9" font-size="9.2" fill="#000" >1.31580</text>
<text x="1693" y="512.9" font-size="9.2" fill="#000" >1.30705</text>
<text x="1693" y="578.9" font-size="9.2" fill="#000" >1.29005</text>
<g shape-rendering="crispEdges">
<rect x="1689" y="443" width="41" height="11" fill="#ff0000" />
<rect x="1689" y="461" width="41" height="11" fill="#ff0000" />
<rect x="1689" y="480" width="41" height="11" fill="#000000" />
<rect x="1689" y="492" width="41" height="11" fill="#ffa500" />
<rect x="1689" y="512" width="41" height="11" fill="#0000ff" />
<rect x="1689" y="535" width="41" height="11" fill="#0000ff" />
</g>
<text x="1693" y="451.8" font-size="9.2" fill="#fff" >1.32291</text>
<text x="1693" y="469.8" font-size="9.2" fill="#fff" >1.31822</text>
<text x="1693" y="488.8" font-size="9.2" fill="#fff" >1.31341</text>
<text x="1693" y="500.8" font-size="9.2" fill="#fff" >1.31014</text>
<text x="1693" y="520.8" font-size="9.2" fill="#fff" >1.30493</text>
<text x="1693" y="543.8" font-size="9.2" fill="#fff" >1.29894</text>
<polygon points="0,36.6 7,36.6 3.5,32" fill="#000"/>
<text x="12.2" y="37.3" font-size="9.2" fill="#000" textLength="68" lengthAdjust="spacingAndGlyphs">USDCAD-,Daily</text>
<text x="87.1" y="37.3" font-size="9.2" fill="#000" textLength="140" lengthAdjust="spacingAndGlyphs">1.30588 1.31489 1.30552 1.31341</text>
<g shape-rendering="crispEdges">
<rect x="0" y="43" width="221" height="68" fill="#fff" />
<rect x="0" y="45" width="52" height="25" fill="url(#gb)" />
<rect x="167" y="45" width="52" height="25" fill="url(#gb)" />
<rect x="0" y="69" width="109" height="40" fill="url(#gb)" />
<rect x="111" y="69" width="108" height="40" fill="url(#gb)" />
<rect x="4" y="69" width="44" height="1" fill="#8c8cf5" />
<rect x="171" y="69" width="44" height="1" fill="#8c8cf5" />
<rect x="54" y="45" width="112" height="22" fill="#b4b4b4" />
<rect x="55" y="46" width="110" height="20" fill="#fff" />
<rect x="56" y="47" width="19" height="18" fill="#a8a8a8" />
<rect x="57" y="48" width="17" height="16" fill="url(#gbtn)" />
<rect x="144" y="47" width="19" height="18" fill="#a8a8a8" />
<rect x="145" y="48" width="17" height="16" fill="url(#gbtn)" />
</g>
<polygon points="62,54 68,54 65,57.5" fill="#4a5cc0"/>
<polygon points="150.5,57.5 156.5,57.5 153.5,54" fill="#4a5cc0"/>
<text x="139.5" y="60" font-size="12" fill="#000" text-anchor="end">1.00</text>
<text x="12.5" y="61" font-size="11.5" fill="#fff" textLength="25.5" lengthAdjust="spacingAndGlyphs">SELL</text>
<text x="180.5" y="61" font-size="11.5" fill="#fff" textLength="22.5" lengthAdjust="spacingAndGlyphs">BUY</text>
<text x="20.5" y="100" font-size="11.5" fill="#fff" font-weight="bold" textLength="23" lengthAdjust="spacingAndGlyphs">1.31</text>
<text x="47" y="100.3" font-size="33" fill="#fff" textLength="35" lengthAdjust="spacingAndGlyphs">34</text>
<text x="87" y="83.8" font-size="11" fill="#fff" font-weight="bold">1</text>
<text x="130.5" y="100" font-size="11.5" fill="#fff" font-weight="bold" textLength="23" lengthAdjust="spacingAndGlyphs">1.31</text>
<text x="157" y="100.3" font-size="33" fill="#fff" textLength="35" lengthAdjust="spacingAndGlyphs">47</text>
<text x="198" y="83.8" font-size="11" fill="#fff" font-weight="bold">6</text>
<g shape-rendering="crispEdges">
<rect x="5" y="619" width="1" height="45" fill="#c0c0c0" />
<rect x="13" y="627" width="1" height="37" fill="#c0c0c0" />
<rect x="21" y="635" width="1" height="29" fill="#c0c0c0" />
<rect x="29" y="642" width="1" height="22" fill="#c0c0c0" />
<rect x="37" y="651" width="1" height="13" fill="#c0c0c0" />
<rect x="45" y="659" width="1" height="5" fill="#c0c0c0" />
<rect x="53" y="655" width="1" height="9" fill="#c0c0c0" />
<rect x="61" y="655" width="1" height="9" fill="#c0c0c0" />
<rect x="69" y="656" width="1" height="8" fill="#c0c0c0" />
<rect x="77" y="656" width="1" height="8" fill="#c0c0c0" />
<rect x="85" y="653" width="1" height="11" fill="#c0c0c0" />
<rect x="93" y="649" width="1" height="15" fill="#c0c0c0" />
<rect x="101" y="645" width="1" height="19" fill="#c0c0c0" />
<rect x="109" y="647" width="1" height="17" fill="#c0c0c0" />
<rect x="117" y="649" width="1" height="15" fill="#c0c0c0" />
<rect x="125" y="649" width="1" height="15" fill="#c0c0c0" />
<rect x="133" y="651" width="1" height="13" fill="#c0c0c0" />
<rect x="141" y="656" width="1" height="8" fill="#c0c0c0" />
<rect x="149" y="663" width="1" height="1" fill="#c0c0c0" />
<rect x="157" y="663" width="1" height="3" fill="#c0c0c0" />
<rect x="165" y="663" width="1" height="1" fill="#c0c0c0" />
<rect x="173" y="662" width="1" height="2" fill="#c0c0c0" />
<rect x="181" y="660" width="1" height="4" fill="#c0c0c0" />
<rect x="189" y="660" width="1" height="4" fill="#c0c0c0" />
<rect x="197" y="658" width="1" height="6" fill="#c0c0c0" />
<rect x="205" y="661" width="1" height="3" fill="#c0c0c0" />
<rect x="213" y="663" width="1" height="2" fill="#c0c0c0" />
<rect x="221" y="663" width="1" height="5" fill="#c0c0c0" />
<rect x="229" y="663" width="1" height="5" fill="#c0c0c0" />
<rect x="237" y="663" width="1" height="3" fill="#c0c0c0" />
<rect x="245" y="663" width="1" height="1" fill="#c0c0c0" />
<rect x="253" y="662" width="1" height="2" fill="#c0c0c0" />
<rect x="261" y="662" width="1" height="2" fill="#c0c0c0" />
<rect x="269" y="660" width="1" height="4" fill="#c0c0c0" />
<rect x="277" y="662" width="1" height="2" fill="#c0c0c0" />
<rect x="285" y="663" width="1" height="4" fill="#c0c0c0" />
<rect x="293" y="663" width="1" height="8" fill="#c0c0c0" />
<rect x="301" y="663" width="1" height="11" fill="#c0c0c0" />
<rect x="309" y="663" width="1" height="10" fill="#c0c0c0" />
<rect x="317" y="663" width="1" height="10" fill="#c0c0c0" />
<rect x="325" y="663" width="1" height="10" fill="#c0c0c0" />
<rect x="333" y="663" width="1" height="17" fill="#c0c0c0" />
<rect x="341" y="663" width="1" height="23" fill="#c0c0c0" />
<rect x="349" y="663" width="1" height="27" fill="#c0c0c0" />
<rect x="357" y="663" width="1" height="31" fill="#c0c0c0" />
<rect x="365" y="663" width="1" height="33" fill="#c0c0c0" />
<rect x="373" y="663" width="1" height="41" fill="#c0c0c0" />
<rect x="381" y="663" width="1" height="51" fill="#c0c0c0" />
<rect x="389" y="663" width="1" height="59" fill="#c0c0c0" />
<rect x="397" y="663" width="1" height="63" fill="#c0c0c0" />
<rect x="405" y="663" width="1" height="69" fill="#c0c0c0" />
<rect x="413" y="663" width="1" height="74" fill="#c0c0c0" />
<rect x="421" y="663" width="1" height="79" fill="#c0c0c0" />
<rect x="429" y="663" width="1" height="79" fill="#c0c0c0" />
<rect x="437" y="663" width="1" height="77" fill="#c0c0c0" />
<rect x="445" y="663" width="1" height="68" fill="#c0c0c0" />
<rect x="453" y="663" width="1" height="60" fill="#c0c0c0" />
<rect x="461" y="663" width="1" height="52" fill="#c0c0c0" />
<rect x="469" y="663" width="1" height="51" fill="#c0c0c0" />
<rect x="477" y="663" width="1" height="48" fill="#c0c0c0" />
<rect x="485" y="663" width="1" height="43" fill="#c0c0c0" />
<rect x="493" y="663" width="1" height="40" fill="#c0c0c0" />
<rect x="501" y="663" width="1" height="35" fill="#c0c0c0" />
<rect x="509" y="663" width="1" height="31" fill="#c0c0c0" />
<rect x="517" y="663" width="1" height="32" fill="#c0c0c0" />
<rect x="525" y="663" width="1" height="31" fill="#c0c0c0" />
<rect x="533" y="663" width="1" height="24" fill="#c0c0c0" />
<rect x="541" y="663" width="1" height="21" fill="#c0c0c0" />
<rect x="549" y="663" width="1" height="17" fill="#c0c0c0" />
<rect x="557" y="663" width="1" height="12" fill="#c0c0c0" />
<rect x="565" y="663" width="1" height="8" fill="#c0c0c0" />
<rect x="573" y="663" width="1" height="10" fill="#c0c0c0" />
<rect x="581" y="663" width="1" height="10" fill="#c0c0c0" />
<rect x="589" y="663" width="1" height="11" fill="#c0c0c0" />
<rect x="597" y="663" width="1" height="12" fill="#c0c0c0" />
<rect x="605" y="663" width="1" height="13" fill="#c0c0c0" />
<rect x="613" y="663" width="1" height="13" fill="#c0c0c0" />
<rect x="621" y="663" width="1" height="12" fill="#c0c0c0" />
<rect x="629" y="663" width="1" height="13" fill="#c0c0c0" />
<rect x="637" y="663" width="1" height="12" fill="#c0c0c0" />
<rect x="645" y="663" width="1" height="11" fill="#c0c0c0" />
<rect x="653" y="663" width="1" height="9" fill="#c0c0c0" />
<rect x="661" y="663" width="1" height="8" fill="#c0c0c0" />
<rect x="669" y="663" width="1" height="6" fill="#c0c0c0" />
<rect x="677" y="663" width="1" height="8" fill="#c0c0c0" />
<rect x="685" y="663" width="1" height="8" fill="#c0c0c0" />
<rect x="693" y="663" width="1" height="7" fill="#c0c0c0" />
<rect x="701" y="663" width="1" height="7" fill="#c0c0c0" />
<rect x="709" y="663" width="1" height="8" fill="#c0c0c0" />
<rect x="717" y="663" width="1" height="13" fill="#c0c0c0" />
<rect x="725" y="663" width="1" height="17" fill="#c0c0c0" />
<rect x="733" y="663" width="1" height="21" fill="#c0c0c0" />
<rect x="741" y="663" width="1" height="22" fill="#c0c0c0" />
<rect x="749" y="663" width="1" height="24" fill="#c0c0c0" />
<rect x="757" y="663" width="1" height="27" fill="#c0c0c0" />
<rect x="765" y="663" width="1" height="29" fill="#c0c0c0" />
<rect x="773" y="663" width="1" height="31" fill="#c0c0c0" />
<rect x="781" y="663" width="1" height="30" fill="#c0c0c0" />
<rect x="789" y="663" width="1" height="29" fill="#c0c0c0" />
<rect x="797" y="663" width="1" height="27" fill="#c0c0c0" />
<rect x="805" y="663" width="1" height="27" fill="#c0c0c0" />
<rect x="813" y="663" width="1" height="30" fill="#c0c0c0" />
<rect x="821" y="663" width="1" height="33" fill="#c0c0c0" />
<rect x="829" y="663" width="1" height="33" fill="#c0c0c0" />
<rect x="837" y="663" width="1" height="30" fill="#c0c0c0" />
<rect x="845" y="663" width="1" height="27" fill="#c0c0c0" />
<rect x="853" y="663" width="1" height="26" fill="#c0c0c0" />
<rect x="861" y="663" width="1" height="26" fill="#c0c0c0" />
<rect x="869" y="663" width="1" height="27" fill="#c0c0c0" />
<rect x="877" y="663" width="1" height="32" fill="#c0c0c0" />
<rect x="885" y="663" width="1" height="31" fill="#c0c0c0" />
<rect x="893" y="663" width="1" height="31" fill="#c0c0c0" />
<rect x="901" y="663" width="1" height="33" fill="#c0c0c0" />
<rect x="909" y="663" width="1" height="36" fill="#c0c0c0" />
<rect x="917" y="663" width="1" height="35" fill="#c0c0c0" />
<rect x="925" y="663" width="1" height="36" fill="#c0c0c0" />
<rect x="933" y="663" width="1" height="36" fill="#c0c0c0" />
<rect x="941" y="663" width="1" height="35" fill="#c0c0c0" />
<rect x="949" y="663" width="1" height="34" fill="#c0c0c0" />
<rect x="957" y="663" width="1" height="35" fill="#c0c0c0" />
<rect x="965" y="663" width="1" height="36" fill="#c0c0c0" />
<rect x="973" y="663" width="1" height="36" fill="#c0c0c0" />
<rect x="981" y="663" width="1" height="37" fill="#c0c0c0" />
<rect x="989" y="663" width="1" height="38" fill="#c0c0c0" />
<rect x="997" y="663" width="1" height="40" fill="#c0c0c0" />
<rect x="1005" y="663" width="1" height="40" fill="#c0c0c0" />
<rect x="1013" y="663" width="1" height="41" fill="#c0c0c0" />
<rect x="1021" y="663" width="1" height="38" fill="#c0c0c0" />
<rect x="1029" y="663" width="1" height="38" fill="#c0c0c0" />
<rect x="1037" y="663" width="1" height="36" fill="#c0c0c0" />
<rect x="1045" y="663" width="1" height="33" fill="#c0c0c0" />
<rect x="1053" y="663" width="1" height="26" fill="#c0c0c0" />
<rect x="1061" y="663" width="1" height="22" fill="#c0c0c0" />
<rect x="1069" y="663" width="1" height="18" fill="#c0c0c0" />
<rect x="1077" y="663" width="1" height="15" fill="#c0c0c0" />
<rect x="1085" y="663" width="1" height="13" fill="#c0c0c0" />
<rect x="1093" y="663" width="1" height="11" fill="#c0c0c0" />
<rect x="1101" y="663" width="1" height="8" fill="#c0c0c0" />
<rect x="1109" y="663" width="1" height="7" fill="#c0c0c0" />
<rect x="1117" y="663" width="1" height="6" fill="#c0c0c0" />
<rect x="1125" y="663" width="1" height="5" fill="#c0c0c0" />
<rect x="1133" y="663" width="1" height="4" fill="#c0c0c0" />
<rect x="1141" y="662" width="1" height="2" fill="#c0c0c0" />
<rect x="1149" y="658" width="1" height="6" fill="#c0c0c0" />
<rect x="1157" y="652" width="1" height="12" fill="#c0c0c0" />
<rect x="1165" y="648" width="1" height="16" fill="#c0c0c0" />
<rect x="1173" y="644" width="1" height="20" fill="#c0c0c0" />
<rect x="1181" y="641" width="1" height="23" fill="#c0c0c0" />
<rect x="1189" y="640" width="1" height="24" fill="#c0c0c0" />
<rect x="1197" y="639" width="1" height="25" fill="#c0c0c0" />
<rect x="1205" y="641" width="1" height="23" fill="#c0c0c0" />
<rect x="1213" y="644" width="1" height="20" fill="#c0c0c0" />
<rect x="1221" y="645" width="1" height="19" fill="#c0c0c0" />
<rect x="1229" y="647" width="1" height="17" fill="#c0c0c0" />
<rect x="1237" y="651" width="1" height="13" fill="#c0c0c0" />
<rect x="1245" y="651" width="1" height="13" fill="#c0c0c0" />
<rect x="1253" y="653" width="1" height="11" fill="#c0c0c0" />
<rect x="1261" y="658" width="1" height="6" fill="#c0c0c0" />
<rect x="1269" y="663" width="1" height="1" fill="#c0c0c0" />
<rect x="1277" y="663" width="1" height="5" fill="#c0c0c0" />
<rect x="1285" y="663" width="1" height="10" fill="#c0c0c0" />
<rect x="1293" y="663" width="1" height="12" fill="#c0c0c0" />
<rect x="1301" y="663" width="1" height="14" fill="#c0c0c0" />
<rect x="1309" y="663" width="1" height="12" fill="#c0c0c0" />
<rect x="1317" y="663" width="1" height="11" fill="#c0c0c0" />
<rect x="1325" y="663" width="1" height="11" fill="#c0c0c0" />
<rect x="1333" y="663" width="1" height="11" fill="#c0c0c0" />
<rect x="1341" y="663" width="1" height="12" fill="#c0c0c0" />
<rect x="1349" y="663" width="1" height="13" fill="#c0c0c0" />
<rect x="1357" y="663" width="1" height="13" fill="#c0c0c0" />
<rect x="1365" y="663" width="1" height="13" fill="#c0c0c0" />
<rect x="1373" y="663" width="1" height="12" fill="#c0c0c0" />
<rect x="1381" y="663" width="1" height="11" fill="#c0c0c0" />
<rect x="1389" y="663" width="1" height="10" fill="#c0c0c0" />
<rect x="1397" y="663" width="1" height="4" fill="#c0c0c0" />
<rect x="1405" y="663" width="1" height="1" fill="#c0c0c0" />
<rect x="1413" y="659" width="1" height="5" fill="#c0c0c0" />
<rect x="1421" y="654" width="1" height="10" fill="#c0c0c0" />
<rect x="1429" y="656" width="1" height="8" fill="#c0c0c0" />
<rect x="1437" y="662" width="1" height="2" fill="#c0c0c0" />
<rect x="1445" y="663" width="1" height="1" fill="#c0c0c0" />
<rect x="1453" y="663" width="1" height="7" fill="#c0c0c0" />
<rect x="1461" y="663" width="1" height="13" fill="#c0c0c0" />
<rect x="1469" y="663" width="1" height="17" fill="#c0c0c0" />
<rect x="1477" y="663" width="1" height="22" fill="#c0c0c0" />
<rect x="1485" y="663" width="1" height="24" fill="#c0c0c0" />
<rect x="1493" y="663" width="1" height="24" fill="#c0c0c0" />
<rect x="1501" y="663" width="1" height="21" fill="#c0c0c0" />
<polyline points="2.5,592.8 12.7,601.6 25.4,610.5 38.0,620.7 50.7,629.6 63.4,638.4 76.1,647.3 88.8,651.1 106.6,652.4 126.9,649.9 144.6,649.3 157.3,651.1 172.5,655.7 187.8,658.7 203.0,661.3 220.8,663.3 243.6,663.3 263.9,664.3 279.1,665.1 299.4,665.8 317.2,667.6 329.9,670.2 342.6,675.2 355.2,679.5 367.9,683.6 380.6,690.5 393.3,699.3 406.0,708.7 418.7,715.8 431.4,724.7 442.7,731.0 454.1,733.1 475.7,729.8 490.9,722.2 506.1,713.3 518.8,706.4 536.6,699.3 556.9,690.5 577.2,682.8 594.9,678.3 612.7,675.7 663.4,675.2 683.7,673.2 709.1,671.9 726.9,673.2 739.6,676.5 752.3,677.8 764.9,682.3 775.1,685.9 790.3,689.7 810.6,692.2 825.8,693.2 846.1,692.7 868.7,692.2 905.7,692.5 923.4,695.5 956.4,698.1 989.4,698.6 997.0,699.8 1037.6,701.1 1052.8,699.3 1068.1,696.0 1088.4,687.4 1113.7,678.5 1139.1,672.2 1159.4,663.8 1182.3,655.7 1200.0,648.6 1215.2,643.5 1230.5,642.2 1245.7,642.7 1255.8,646.0 1266.0,648.6 1278.7,653.7 1292.5,660.0 1305.2,664.3 1325.5,671.4 1345.8,674.7 1366.1,676.0 1383.9,676.0 1399.1,674.7 1416.9,670.2 1432.1,665.8 1447.3,662.5 1457.5,662.0 1472.7,664.6 1485.4,669.4 1500.6,676.5" fill="none" stroke="#ff0000" stroke-width="1" stroke-dasharray="3 3" clip-path="url(#cmacd)"/>
</g>
<text x="2" y="593" font-size="9.2" fill="#000" textLength="152" lengthAdjust="spacingAndGlyphs">MACD(12,26,9) -0.004124 -0.002781</text>
<text x="1691" y="591" font-size="9.2" fill="#000" >0.016546</text>
<text x="1691" y="667.3" font-size="9.2" fill="#000" >0.00</text>
<text x="1691" y="746.8" font-size="9.2" fill="#000" >-0.017423</text>
<rect x="1688" y="663" width="3" height="1" fill="#000" shape-rendering="crispEdges"/>
<g shape-rendering="crispEdges">
<line x1="0" y1="788.5" x2="1687" y2="788.5" stroke="#c0c0c0" stroke-width="1" stroke-dasharray="3 3"/>
<line x1="0" y1="839.5" x2="1687" y2="839.5" stroke="#c0c0c0" stroke-width="1" stroke-dasharray="3 3"/>
<line x1="0" y1="900.5" x2="1687" y2="900.5" stroke="#c0c0c0" stroke-width="1" stroke-dasharray="3 3"/>
<polyline points="0.0,836.3 5.0,840.1 13.0,841.3 21.0,843.4 29.0,844.6 37.0,851.5 45.0,850.2 53.0,831.7 61.0,837.0 69.0,838.8 77.0,836.8 85.0,831.2 93.0,825.6 101.0,826.6 109.0,838.3 117.0,834.2 125.0,834.2 133.0,841.3 141.0,846.4 149.0,855.3 157.0,847.2 165.0,836.3 173.0,831.7 181.0,835.8 189.0,840.1 197.0,829.9 205.0,845.2 213.0,848.5 221.0,849.5 229.0,840.8 237.0,835.8 245.0,834.2 253.0,840.1 261.0,833.2 269.0,835.0 277.0,849.0 285.0,849.5 293.0,852.8 301.0,847.7 309.0,842.6 317.0,843.4 325.0,844.6 333.0,860.9 341.0,863.4 349.0,861.6 357.0,860.4 365.0,860.4 373.0,874.8 381.0,878.9 389.0,880.7 397.0,879.4 405.0,883.2 413.0,885.2 421.0,886.5 429.0,877.4 437.0,876.1 445.0,846.4 453.0,848.5 461.0,846.4 469.0,856.6 477.0,855.3 485.0,849.5 493.0,847.7 501.0,846.4 509.0,844.4 517.0,857.3 525.0,851.5 533.0,838.3 541.0,839.3 549.0,836.3 557.0,833.0 565.0,837.0 573.0,848.5 581.0,845.2 589.0,848.5 597.0,850.2 605.0,851.5 613.0,852.5 621.0,840.1 629.0,853.3 637.0,843.9 645.0,841.3 653.0,840.1 661.0,838.3 669.0,840.1 677.0,854.0 685.0,843.9 693.0,842.6 701.0,843.4 709.0,850.7 717.0,861.1 725.0,864.7 733.0,866.7 741.0,862.2 749.0,862.4 757.0,872.3 765.0,863.4 773.0,867.2 781.0,853.3 789.0,857.1 797.0,853.3 805.0,854.5 813.0,867.2 821.0,870.5 829.0,859.1 837.0,847.2 845.0,847.2 853.0,852.3 861.0,857.3 869.0,864.7 877.0,868.5 885.0,861.1 893.0,861.1 901.0,865.5 909.0,872.3 917.0,861.1 925.0,865.5 933.0,862.2 941.0,863.4 949.0,855.3 957.0,862.2 965.0,865.5 973.0,867.5 981.0,871.3 989.0,872.6 997.0,877.4 1005.0,873.6 1013.0,874.3 1021.0,851.5 1029.0,864.2 1037.0,858.3 1045.0,854.0 1053.0,831.2 1061.0,843.1 1069.0,838.3 1077.0,837.0 1085.0,838.8 1093.0,840.6 1101.0,837.5 1109.0,839.3 1117.0,845.7 1125.0,837.5 1133.0,836.3 1141.0,820.3 1149.0,821.6 1157.0,810.4 1165.0,818.5 1173.0,813.4 1181.0,816.7 1189.0,821.6 1197.0,817.2 1205.0,831.7 1213.0,836.3 1221.0,833.0 1229.0,835.0 1237.0,842.1 1245.0,831.2 1253.0,841.3 1261.0,851.5 1269.0,859.6 1277.0,859.6 1285.0,862.9 1293.0,856.6 1301.0,854.5 1309.0,839.3 1317.0,846.4 1325.0,847.7 1333.0,845.2 1341.0,856.1 1349.0,849.5 1357.0,852.8 1365.0,850.7 1373.0,849.5 1381.0,837.0 1389.0,840.6 1397.0,821.6 1405.0,820.3 1413.0,820.3 1421.0,813.4 1429.0,840.1 1437.0,856.6 1445.0,852.3 1453.0,857.1 1461.0,863.4 1469.0,863.4 1477.0,865.5 1485.0,860.4 1493.0,855.8 1501.0,843.4" fill="none" stroke="#1e90ff" stroke-width="1" />
</g>
<text x="2" y="765" font-size="9.2" fill="#000" textLength="67" lengthAdjust="spacingAndGlyphs">RSI(14) 48.7129</text>
<text x="1691" y="762.4" font-size="9.2" fill="#000" >100</text>
<text x="1691" y="791.4" font-size="9.2" fill="#000" >80</text>
<text x="1691" y="842.3" font-size="9.2" fill="#000" >50</text>
<text x="1691" y="903.5" font-size="9.2" fill="#000" >15</text>
<text x="1691" y="922.4" font-size="9.2" fill="#000" >0</text>
<g shape-rendering="crispEdges">
<rect x="-3" y="927" width="1" height="3" fill="#000" />
<rect x="61" y="927" width="1" height="3" fill="#000" />
<rect x="125" y="927" width="1" height="3" fill="#000" />
<rect x="189" y="927" width="1" height="3" fill="#000" />
<rect x="253" y="927" width="1" height="3" fill="#000" />
<rect x="317" y="927" width="1" height="3" fill="#000" />
<rect x="381" y="927" width="1" height="3" fill="#000" />
<rect x="445" y="927" width="1" height="3" fill="#000" />
<rect x="509" y="927" width="1" height="3" fill="#000" />
<rect x="573" y="927" width="1" height="3" fill="#000" />
<rect x="637" y="927" width="1" height="3" fill="#000" />
<rect x="701" y="927" width="1" height="3" fill="#000" />
<rect x="765" y="927" width="1" height="3" fill="#000" />
<rect x="829" y="927" width="1" height="3" fill="#000" />
<rect x="893" y="927" width="1" height="3" fill="#000" />
<rect x="957" y="927" width="1" height="3" fill="#000" />
<rect x="1021" y="927" width="1" height="3" fill="#000" />
<rect x="1085" y="927" width="1" height="3" fill="#000" />
<rect x="1149" y="927" width="1" height="3" fill="#000" />
<rect x="1213" y="927" width="1" height="3" fill="#000" />
<rect x="1277" y="927" width="1" height="3" fill="#000" />
<rect x="1341" y="927" width="1" height="3" fill="#000" />
<rect x="1405" y="927" width="1" height="3" fill="#000" />
<rect x="1469" y="927" width="1" height="3" fill="#000" />
</g>
<text x="-4" y="939.3" font-size="9.2" fill="#000" >6 Apr 2020</text>
<text x="60" y="939.3" font-size="9.2" fill="#000" >16 Apr 2020</text>
<text x="124" y="939.3" font-size="9.2" fill="#000" >26 Apr 2020</text>
<text x="188" y="939.3" font-size="9.2" fill="#000" >5 May 2020</text>
<text x="252" y="939.3" font-size="9.2" fill="#000" >14 May 2020</text>
<text x="316" y="939.3" font-size="9.2" fill="#000" >24 May 2020</text>
<text x="380" y="939.3" font-size="9.2" fill="#000" >2 Jun 2020</text>
<text x="444" y="939.3" font-size="9.2" fill="#000" >11 Jun 2020</text>
<text x="508" y="939.3" font-size="9.2" fill="#000" >21 Jun 2020</text>
<text x="572" y="939.3" font-size="9.2" fill="#000" >30 Jun 2020</text>
<text x="636" y="939.3" font-size="9.2" fill="#000" >9 Jul 2020</text>
<text x="700" y="939.3" font-size="9.2" fill="#000" >19 Jul 2020</text>
<text x="764" y="939.3" font-size="9.2" fill="#000" >28 Jul 2020</text>
<text x="828" y="939.3" font-size="9.2" fill="#000" >6 Aug 2020</text>
<text x="892" y="939.3" font-size="9.2" fill="#000" >16 Aug 2020</text>
<text x="956" y="939.3" font-size="9.2" fill="#000" >25 Aug 2020</text>
<text x="1020" y="939.3" font-size="9.2" fill="#000" >3 Sep 2020</text>
<text x="1084" y="939.3" font-size="9.2" fill="#000" >13 Sep 2020</text>
<text x="1148" y="939.3" font-size="9.2" fill="#000" >22 Sep 2020</text>
<text x="1212" y="939.3" font-size="9.2" fill="#000" >1 Oct 2020</text>
<text x="1276" y="939.3" font-size="9.2" fill="#000" >11 Oct 2020</text>
<text x="1340" y="939.3" font-size="9.2" fill="#000" >20 Oct 2020</text>
<text x="1404" y="939.3" font-size="9.2" fill="#000" >29 Oct 2020</text>
<text x="1468" y="939.3" font-size="9.2" fill="#000" >8 Nov 2020</text>
<rect x="0" y="0" width="1734" height="21" fill="#f0f0f0" shape-rendering="crispEdges"/>
<rect x="0" y="21" width="1734" height="1" fill="#a0a0a0" shape-rendering="crispEdges"/>
<rect x="0" y="22" width="1734" height="1" fill="#696969" shape-rendering="crispEdges"/>
<rect x="0" y="23" width="1734" height="2" fill="#ffffff" shape-rendering="crispEdges"/>
<rect x="1733" y="23" width="1" height="920" fill="#dcdcdc" shape-rendering="crispEdges"/>
<rect x="-4" y="2.5" width="15" height="13.5" fill="#3f74d2" />
<rect x="-3" y="3.5" width="12.6" height="11" fill="#ffffff" />
<rect x="0" y="5.5" width="9" height="0.8" fill="#b4c6f2" />
<rect x="0" y="8" width="9" height="0.8" fill="#b4c6f2" />
<rect x="0" y="10.5" width="9" height="0.8" fill="#b4c6f2" />
<rect x="0" y="13" width="9" height="0.8" fill="#b4c6f2" />
<rect x="-1" y="5" width="1.6" height="1.2" fill="#e02020" />
<rect x="-1" y="10.3" width="1.6" height="1.2" fill="#e02020" />
<rect x="-1" y="7.7" width="1.6" height="1.2" fill="#202020" />
<rect x="23.5" y="1.5" width="12" height="13" fill="#b4aca0" />
<rect x="24.3" y="2.3" width="10.4" height="11.4" fill="#f6f3ec" />
<path d="M27 4v8M30.5 3.5v7M33 4.5v7M25.5 6.5h3M29 5h3" stroke="#8a8a8a" stroke-width="1" fill="none"/>
<circle cx="31.6" cy="9.4" r="4.9" fill="#cfe2f8" fill-opacity="0.8" stroke="#6f98d8" stroke-width="1.3"/>
<path d="M35.6 13.4L40 17.6" stroke="#9a6c14" stroke-width="3.2" stroke-linecap="round"/>
<path d="M35.6 13.4L40 17.6" stroke="#e0b040" stroke-width="1.8" stroke-linecap="round"/>
<rect x="48" y="1" width="1" height="19" fill="#a0a0a0" shape-rendering="crispEdges"/>
<rect x="49" y="1" width="1" height="19" fill="#fff" shape-rendering="crispEdges"/>
<path d="M58.6 1.6h7.2l3.7 3.7v9.3h-10.9z" fill="#fcfcfc" stroke="#6c6c6c" stroke-width="1"/>
<path d="M65.8 1.6v3.7h3.7" fill="#e0e0e0" stroke="#6c6c6c" stroke-width="0.8"/>
<path d="M60.5 4h3.5M60.5 6.5h6M60.5 9h4M60.5 11.5h3" stroke="#7c7c7c" stroke-width="1"/>
<path d="M66.3 7.2h4v3.9h3.9v4h-3.9v3.9h-4v-3.9h-3.9v-4h3.9z" fill="#24c424" stroke="#0c8a0c" stroke-width="0.9"/>
<text x="76.6" y="12.6" font-size="12.1" fill="#000" textLength="36.3" lengthAdjust="spacing" style="font-family:'Liberation Sans','Noto Sans CJK SC',sans-serif">新订单</text>
<defs><linearGradient id="bk" x1="0" y1="0" x2="1" y2="1"><stop offset="0" stop-color="#f6dc7c"/><stop offset="1" stop-color="#d29a1c"/></linearGradient></defs>
<path d="M125.5 11l6.5-9 9 4.5-5.5 10.5z" fill="#a4740f"/>
<path d="M125.5 10l6.5-8.5 9 4.5-6 9z" fill="url(#bk)" stroke="#b8861c" stroke-width="0.7"/>
<path d="M126.3 11.6l8.5 4.3 5.2-8.5" fill="none" stroke="#f4e4a4" stroke-width="0.8"/>
<path d="M155.5 1.5l2-0.8h7.5v9h-9.5z" fill="#2f86e4"/><path d="M155.5 1.5l2-0.8v9l-2 0.5z" fill="#9cc8f4"/>
<rect x="159" y="3" width="5" height="1.6" fill="#cfe4fa" />
<rect x="160" y="6" width="4" height="1" fill="#9cc8f4" />
<path d="M156.3 16.3a3.1 3.1 0 0 1-.4-6.1a3.8 3.8 0 0 1 7-.9a3.3 3.3 0 0 1 2.9 7z" fill="#eef2f8" stroke="#7388b8" stroke-width="1"/>
<path d="M155 14.8q5 1.6 11.5 0" stroke="#c4cee4" stroke-width="1" fill="none"/>
<path d="M189 .6a7.8 7.8 0 0 0 0 15.6" fill="none" stroke="#7d9ee0" stroke-width="1.2"/>
<path d="M189 .6a7.8 7.8 0 0 1 7.8 7.8" fill="none" stroke="#a8c4dc" stroke-width="1.1"/>
<path d="M189 3.4a5 5 0 0 0 0 10" fill="none" stroke="#5c84dc" stroke-width="1.2"/>
<path d="M189 3.4a5 5 0 0 1 5 5" fill="none" stroke="#9cbcd8" stroke-width="1.1"/>
<path d="M189 8.4v8a8 8 0 0 0 7.8-8z" fill="#58b860" fill-opacity="0.75"/>
<path d="M189 8.4v8.2" stroke="#18a028" stroke-width="1.6"/>
<circle cx="189" cy="8.2" r="1.8" fill="#2458d0"/>
<path d="M209.5 8h13.5l-5.5 8.8q-1.5 .6-3-.4z" fill="#f4d444" stroke="#c89c1c" stroke-width="0.7"/>
<path d="M211 9l4 6.5" stroke="#fcf0a8" stroke-width="1.2"/>
<ellipse cx="216" cy="6.2" rx="7.8" ry="2.7" fill="#4c8cd8"/>
<path d="M211.6 5.6a4.4 4.6 0 0 1 8.8 0q-4.4 1.8-8.8 0z" fill="#80b8ec"/>
<circle cx="220.7" cy="13" r="4" fill="#dc2410"/><rect x="219.1" y="11.4" width="3.2" height="3.2" fill="#fff"/>
<text x="229" y="12.6" font-size="12.1" fill="#000" textLength="47.8" lengthAdjust="spacing" style="font-family:'Liberation Sans','Noto Sans CJK SC',sans-serif">自动交易</text>
<rect x="284" y="1" width="1" height="19" fill="#a0a0a0" shape-rendering="crispEdges"/>
<rect x="285" y="1" width="1" height="19" fill="#fff" shape-rendering="crispEdges"/>
<rect x="288" y="2" width="3" height="1" fill="#b0b0b0" shape-rendering="crispEdges"/>
<rect x="288" y="4" width="3" height="1" fill="#b0b0b0" shape-rendering="crispEdges"/>
<rect x="288" y="6" width="3" height="1" fill="#b0b0b0" shape-rendering="crispEdges"/>
<rect x="288" y="8" width="3" height="1" fill="#b0b0b0" shape-rendering="crispEdges"/>
<rect x="288" y="10" width="3" height="1" fill="#b0b0b0" shape-rendering="crispEdges"/>
<rect x="288" y="12" width="3" height="1" fill="#b0b0b0" shape-rendering="crispEdges"/>
<rect x="288" y="14" width="3" height="1" fill="#b0b0b0" shape-rendering="crispEdges"/>
<rect x="288" y="16" width="3" height="1" fill="#b0b0b0" shape-rendering="crispEdges"/>
<rect x="288" y="18" width="3" height="1" fill="#b0b0b0" shape-rendering="crispEdges"/>
<path d="M302.5 3v13.6M300 14.4h13.6" stroke="#4a4a4a" stroke-width="1.2" fill="none"/>
<path d="M301.1 4.6l1.4-1.8 1.4 1.8M312 13l1.7 1.4-1.7 1.4" stroke="#4a4a4a" stroke-width="0.9" fill="none"/>
<path d="M308.6 4.8v7.3M308.6 5.6h2.4M306 11.2h2.6" stroke="#189418" stroke-width="1.25" fill="none"/>
<rect x="322" y="1" width="1" height="19" fill="#a0a0a0" shape-rendering="crispEdges"/>
<rect x="323" y="1" width="1" height="19" fill="#fff" shape-rendering="crispEdges"/>
<rect x="323" y="0" width="24" height="20" fill="#f8f8f8" shape-rendering="crispEdges"/>
<rect x="323" y="0" width="1" height="20" fill="#d0d0d0" shape-rendering="crispEdges"/>
<path d="M330.5 3v13.6M328 14.4h13.6" stroke="#4a4a4a" stroke-width="1.2" fill="none"/>
<path d="M329.1 4.6l1.4-1.8 1.4 1.8M340 13l1.7 1.4-1.7 1.4" stroke="#4a4a4a" stroke-width="0.9" fill="none"/>
<path d="M336.6 .9v12.2" stroke="#108410" stroke-width="1.1"/><rect x="334.4" y="3.2" width="4.6" height="7.6" fill="#34d834" stroke="#109010" stroke-width="0.9"/>
<path d="M358.5 3v13.6M356 14.4h13.6" stroke="#4a4a4a" stroke-width="1.2" fill="none"/>
<path d="M357.1 4.6l1.4-1.8 1.4 1.8M368 13l1.7 1.4-1.7 1.4" stroke="#4a4a4a" stroke-width="0.9" fill="none"/>
<path d="M357 11.4Q360.5 5.6 363.6 6.1T368.8 10.2" fill="none" stroke="#209420" stroke-width="1.1"/>
<rect x="379" y="1" width="1" height="19" fill="#a0a0a0" shape-rendering="crispEdges"/>
<rect x="380" y="1" width="1" height="19" fill="#fff" shape-rendering="crispEdges"/>
<path d="M398.2 10.9L403.59999999999997 16" stroke="#94701c" stroke-width="3.4" stroke-linecap="round"/>
<path d="M398.2 10.9L403.59999999999997 16" stroke="#ecc848" stroke-width="1.9" stroke-linecap="round"/>
<circle cx="394.2" cy="6.9" r="5.4" fill="#d4e6fa" stroke="#3c78c8" stroke-width="1.3"/>
<path d="M391.0 4.6a4 4 0 0 1 5-1.6" stroke="#ffffff" stroke-width="1.2" fill="none"/>
<path d="M391.2 7h6" stroke="#3868b8" stroke-width="1.7"/>
<path d="M394.2 4v6" stroke="#3868b8" stroke-width="1.7"/>
<path d="M425.9 10.9L431.29999999999995 16" stroke="#94701c" stroke-width="3.4" stroke-linecap="round"/>
<path d="M425.9 10.9L431.29999999999995 16" stroke="#ecc848" stroke-width="1.9" stroke-linecap="round"/>
<circle cx="421.9" cy="6.9" r="5.4" fill="#d4e6fa" stroke="#3c78c8" stroke-width="1.3"/>
<path d="M418.7 4.6a4 4 0 0 1 5-1.6" stroke="#ffffff" stroke-width="1.2" fill="none"/>
<path d="M418.9 7h6" stroke="#3868b8" stroke-width="1.7"/>
<rect x="444" y="1" width="8" height="7.7" fill="#3c9c2c" />
<rect x="444.7" y="1.7" width="6.6" height="2" fill="#5cbc44" />
<rect x="445.2" y="4" width="5.6" height="3.6" fill="#eef4fa" />
<rect x="446" y="5.6" width="4" height="0.9" fill="#5cbc44" />
<rect x="452" y="1" width="8" height="7.7" fill="#2c60c8" />
<rect x="452.7" y="1.7" width="6.6" height="2" fill="#4c88e8" />
<rect x="453.2" y="4" width="5.6" height="3.6" fill="#eef4fa" />
<rect x="454" y="5.6" width="4" height="0.9" fill="#4c88e8" />
<rect x="444" y="8.7" width="8" height="7.7" fill="#2c60c8" />
<rect x="444.7" y="9.399999999999999" width="6.6" height="2" fill="#4c88e8" />
<rect x="445.2" y="11.7" width="5.6" height="3.6" fill="#eef4fa" />
<rect x="446" y="13.299999999999999" width="4" height="0.9" fill="#4c88e8" />
<rect x="452" y="8.7" width="8" height="7.7" fill="#3c9c2c" />
<rect x="452.7" y="9.399999999999999" width="6.6" height="2" fill="#5cbc44" />
<rect x="453.2" y="11.7" width="5.6" height="3.6" fill="#eef4fa" />
<rect x="454" y="13.299999999999999" width="4" height="0.9" fill="#5cbc44" />
<rect x="469" y="1" width="1" height="19" fill="#a0a0a0" shape-rendering="crispEdges"/>
<rect x="470" y="1" width="1" height="19" fill="#fff" shape-rendering="crispEdges"/>
<rect x="474" y="1" width="1" height="19" fill="#a0a0a0" shape-rendering="crispEdges"/>
<rect x="475" y="1" width="1" height="19" fill="#fff" shape-rendering="crispEdges"/>
<rect x="476" y="0" width="24" height="20" fill="#f8f8f8" shape-rendering="crispEdges"/>
<rect x="476" y="0" width="1" height="20" fill="#d0d0d0" shape-rendering="crispEdges"/>
<path d="M482.5 3v13.6M480 14.4h13.6" stroke="#4a4a4a" stroke-width="1.2" fill="none"/>
<path d="M481.1 4.6l1.4-1.8 1.4 1.8M492 13l1.7 1.4-1.7 1.4" stroke="#4a4a4a" stroke-width="0.9" fill="none"/>
<path d="M487 5.3l4 3.2-4 3.2z" fill="#c0ecc0" stroke="#18a018" stroke-width="1.1" stroke-linejoin="miter"/>
<rect x="502" y="1" width="1" height="19" fill="#a0a0a0" shape-rendering="crispEdges"/>
<rect x="503" y="1" width="1" height="19" fill="#fff" shape-rendering="crispEdges"/>
<rect x="503" y="0" width="25" height="20" fill="#f8f8f8" shape-rendering="crispEdges"/>
<rect x="503" y="0" width="1" height="20" fill="#d0d0d0" shape-rendering="crispEdges"/>
<path d="M510.5 3v13.6M508 14.4h13.6" stroke="#4a4a4a" stroke-width="1.2" fill="none"/>
<path d="M509.1 4.6l1.4-1.8 1.4 1.8M520 13l1.7 1.4-1.7 1.4" stroke="#4a4a4a" stroke-width="0.9" fill="none"/>
<path d="M516.6 3v10" stroke="#2064b0" stroke-width="1.2"/><path d="M522 8.4h-4.2M520 6.4l-2.4 2 2.4 2" stroke="#e04810" stroke-width="1.1" fill="none"/>
<rect x="531" y="1" width="1" height="19" fill="#a0a0a0" shape-rendering="crispEdges"/>
<rect x="532" y="1" width="1" height="19" fill="#fff" shape-rendering="crispEdges"/>
<path d="M541.6 1.6h7l3.7 3.7v9.3h-10.7z" fill="#fcfcfc" stroke="#6c6c6c" stroke-width="1"/>
<path d="M548.6 1.6v3.7h3.7" fill="#e0e0e0" stroke="#6c6c6c" stroke-width="0.8"/>
<path d="M543.6 10.5h2M546.8 4.5q-1.8-.4-1.8 2v6" stroke="#808080" stroke-width="1" fill="none"/>
<path d="M549.2 7.2h4v3.9h3.9v4h-3.9v3.9h-4v-3.9h-3.9v-4h3.9z" fill="#24c424" stroke="#0c8a0c" stroke-width="0.9"/>
<polygon points="562.5,8 568.5,8 565.5,11.5" fill="#000"/>
<circle cx="586.8" cy="8.9" r="8" fill="#1650b8"/><circle cx="586.8" cy="8.9" r="7.1" fill="#3a8cf0"/><circle cx="586.8" cy="8.9" r="5.3" fill="#f4f8ff"/>
<circle cx="591.10" cy="8.90" r="0.35" fill="#909090"/>
<circle cx="590.52" cy="11.05" r="0.35" fill="#909090"/>
<circle cx="588.95" cy="12.62" r="0.35" fill="#909090"/>
<circle cx="586.80" cy="13.20" r="0.35" fill="#909090"/>
<circle cx="584.65" cy="12.62" r="0.35" fill="#909090"/>
<circle cx="583.08" cy="11.05" r="0.35" fill="#909090"/>
<circle cx="582.50" cy="8.90" r="0.35" fill="#909090"/>
<circle cx="583.08" cy="6.75" r="0.35" fill="#909090"/>
<circle cx="584.65" cy="5.18" r="0.35" fill="#909090"/>
<circle cx="586.80" cy="4.60" r="0.35" fill="#909090"/>
<circle cx="588.95" cy="5.18" r="0.35" fill="#909090"/>
<circle cx="590.52" cy="6.75" r="0.35" fill="#909090"/>
<path d="M586.8 5.4v3.6h3" stroke="#383838" stroke-width="1.1" fill="none"/>
<polygon points="601.5,8 607.5,8 604.5,11.5" fill="#000"/>
<rect x="618" y="2" width="16" height="14" fill="#3870cc" />
<rect x="618.8" y="2.6" width="14.4" height="2" fill="#7aa8ec" />
<rect x="619" y="5" width="14" height="10" fill="#fff" />
<rect x="619" y="9.6" width="14" height="0.9" fill="#7aa0dc" />
<path d="M620.5 8.3l2.2-.2 1.8-1.4 2.2.7 2-1 2.4.2" stroke="#a02410" stroke-width="1.2" fill="none"/>
<path d="M620.5 13.4l2.2-.2 1.8-1.2 2-.2 2-1.4 2.6 2.4" stroke="#1c9a1c" stroke-width="1.2" fill="none"/>
<polygon points="640.5,8 646.5,8 643.5,11.5" fill="#000"/>
<rect x="652" y="1" width="1" height="19" fill="#a0a0a0" shape-rendering="crispEdges"/>
<rect x="653" y="1" width="1" height="19" fill="#fff" shape-rendering="crispEdges"/>
<rect x="656" y="2" width="3" height="1" fill="#b0b0b0" shape-rendering="crispEdges"/>
<rect x="656" y="4" width="3" height="1" fill="#b0b0b0" shape-rendering="crispEdges"/>
<rect x="656" y="6" width="3" height="1" fill="#b0b0b0" shape-rendering="crispEdges"/>
<rect x="656" y="8" width="3" height="1" fill="#b0b0b0" shape-rendering="crispEdges"/>
<rect x="656" y="10" width="3" height="1" fill="#b0b0b0" shape-rendering="crispEdges"/>
<rect x="656" y="12" width="3" height="1" fill="#b0b0b0" shape-rendering="crispEdges"/>
<rect x="656" y="14" width="3" height="1" fill="#b0b0b0" shape-rendering="crispEdges"/>
<rect x="656" y="16" width="3" height="1" fill="#b0b0b0" shape-rendering="crispEdges"/>
<rect x="656" y="18" width="3" height="1" fill="#b0b0b0" shape-rendering="crispEdges"/>
<rect x="662.5" y="0" width="24.5" height="20" fill="#f8f8f8" shape-rendering="crispEdges"/>
<rect x="662.5" y="0" width="1" height="20" fill="#d0d0d0" shape-rendering="crispEdges"/>
<path d="M670.3 2.3v12.2l2.9-2.7 2.4 4.7 1.9-.9-2.4-4.6 3.9-.3z" fill="#4c4c4c"/>
<path d="M702.5 2v6M702.5 11v6M695 9.5h6M704 9.5h6" stroke="#484848" stroke-width="1"/>
<rect x="719" y="1" width="1" height="19" fill="#a0a0a0" shape-rendering="crispEdges"/>
<rect x="720" y="1" width="1" height="19" fill="#fff" shape-rendering="crispEdges"/>
<path d="M736.5 3v13" stroke="#585858" stroke-width="1"/>
<path d="M758 9.5h13" stroke="#585858" stroke-width="1"/>
<path d="M786.5 16L799 3.5" stroke="#585858" stroke-width="1.1"/>
<path d="M813 12.6L826 3.4M814.8 15.6L827.8 6.4" stroke="#505050" stroke-width="1.3" fill="none"/>
<path d="M816.8 15.2l2.2-9.6M820.3 13l2.2-9.6M823.8 10.6l2.2-9.6" stroke="#505050" stroke-width="0.9" fill="none"/>
<text x="824.3" y="17.7" font-size="6.8" font-weight="bold" fill="#303030">E</text>
<path d="M842 2.3h13.5" stroke="#585858" stroke-width="1" stroke-dasharray="1 1"/>
<path d="M842 5.8h13.5" stroke="#585858" stroke-width="1" stroke-dasharray="1 1"/>
<path d="M842 9.3h13.5" stroke="#585858" stroke-width="1" stroke-dasharray="1 1"/>
<path d="M842 12.9h13.5" stroke="#585858" stroke-width="1" stroke-dasharray="1 1"/>
<text x="851.7" y="17.7" font-size="6.8" font-weight="bold" fill="#303030">F</text>
<text x="872.6" y="13.7" font-size="12.2" fill="#4c4c4c" stroke="#4c4c4c" stroke-width="0.35">A</text>
<rect x="898.6" y="2.6" width="12" height="13.2" fill="none" stroke="#606060" stroke-width="1" stroke-dasharray="1 1"/>
<text x="900.6" y="13.7" font-size="11.4" font-weight="bold" fill="#505050">T</text>
<path d="M926.6 5.8l2.8-2.8 2.8 2.8-2.8 2.4zM933.8 12.8l2.8-2.2 2.8 2.2-2.8 3z" fill="#404040"/>
<path d="M928.6 8.4l3 3.4 3.6-4.6" stroke="#404040" stroke-width="1.1" fill="none"/>
<polygon points="946.5,8 952.5,8 949.5,11.5" fill="#000"/>
<rect x="958" y="1" width="1" height="19" fill="#a0a0a0" shape-rendering="crispEdges"/>
<rect x="959" y="1" width="1" height="19" fill="#fff" shape-rendering="crispEdges"/>
<rect x="962" y="2" width="3" height="1" fill="#b0b0b0" shape-rendering="crispEdges"/>
<rect x="962" y="4" width="3" height="1" fill="#b0b0b0" shape-rendering="crispEdges"/>
<rect x="962" y="6" width="3" height="1" fill="#b0b0b0" shape-rendering="crispEdges"/>
<rect x="962" y="8" width="3" height="1" fill="#b0b0b0" shape-rendering="crispEdges"/>
<rect x="962" y="10" width="3" height="1" fill="#b0b0b0" shape-rendering="crispEdges"/>
<rect x="962" y="12" width="3" height="1" fill="#b0b0b0" shape-rendering="crispEdges"/>
<rect x="962" y="14" width="3" height="1" fill="#b0b0b0" shape-rendering="crispEdges"/>
<rect x="962" y="16" width="3" height="1" fill="#b0b0b0" shape-rendering="crispEdges"/>
<rect x="962" y="18" width="3" height="1" fill="#b0b0b0" shape-rendering="crispEdges"/>
<rect x="1137" y="0" width="25" height="20" fill="#f8f8f8" shape-rendering="crispEdges"/>
<rect x="1135" y="1" width="1" height="19" fill="#a0a0a0" shape-rendering="crispEdges"/>
<rect x="1136" y="1" width="1" height="19" fill="#fff" shape-rendering="crispEdges"/>
<text x="973.5" y="12.9" font-size="9.3" fill="#3c3c3c">M1</text>
<text x="1001.7" y="12.9" font-size="9.3" fill="#3c3c3c">M5</text>
<text x="1027.3" y="12.9" font-size="9.3" fill="#3c3c3c">M15</text>
<text x="1055.5" y="12.9" font-size="9.3" fill="#3c3c3c">M30</text>
<text x="1086.5" y="12.9" font-size="9.3" fill="#3c3c3c">H1</text>
<text x="1113.9" y="12.9" font-size="9.3" fill="#3c3c3c">H4</text>
<text x="1142.5" y="12.9" font-size="9.3" fill="#3c3c3c">D1</text>
<text x="1170.3" y="12.9" font-size="9.3" fill="#3c3c3c">W1</text>
<text x="1196.8" y="12.9" font-size="9.3" fill="#3c3c3c">MN</text>
<rect x="1219" y="1" width="1" height="19" fill="#a0a0a0" shape-rendering="crispEdges"/>
<rect x="1220" y="1" width="1" height="19" fill="#fff" shape-rendering="crispEdges"/>
<path d="M1686.3 9.8L1682.3 13.6" stroke="#1c4cc0" stroke-width="2.6" stroke-linecap="round"/>
<circle cx="1689.4" cy="6.5" r="4" fill="#f4f6fc" stroke="#2a62d8" stroke-width="1.3"/>
<defs><linearGradient id="bub" x1="0" y1="0" x2="0" y2="1"><stop offset="0" stop-color="#ffffff"/><stop offset="1" stop-color="#d4d6e4"/></linearGradient></defs>
<path d="M1724 9.6l1.4 3-3.4-2.4z" fill="#8c8c8c"/>
<ellipse cx="1722.1" cy="6" rx="6.4" ry="4.6" fill="url(#bub)" stroke="#949494" stroke-width="1.2"/>
<path d="M1711.8 13.4l-1.5 2.4 3.6-1.8z" fill="#7c7c7c"/>
<ellipse cx="1713.2" cy="10.3" rx="5.1" ry="4" fill="url(#bub)" stroke="#8c8c8c" stroke-width="1.2"/>
</svg></body></html>
